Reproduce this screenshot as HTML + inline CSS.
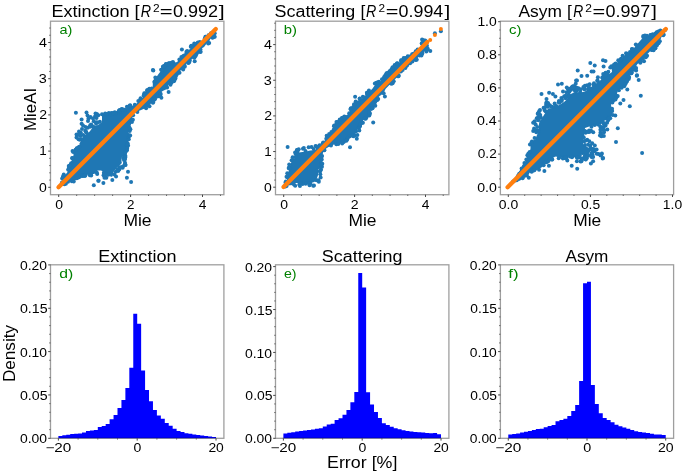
<!DOCTYPE html>
<html><head><meta charset="utf-8"><style>
html,body{margin:0;padding:0;background:#fff;}
svg{display:block;}
text{font-family:"Liberation Sans", sans-serif;}
.txt{will-change:transform;}
</style></head><body>
<svg width="685" height="474" viewBox="0 0 685 474">
<rect width="685" height="474" fill="#fff"/>
<path d="M58.38 438.3 L58.38 435.9 L62.32 435.9 L62.32 435.3 L66.26 435.3 L66.26 434.7 L70.2 434.7 L70.2 434.1 L74.15 434.1 L74.15 433.8 L78.09 433.8 L78.09 433.4 L82.03 433.4 L82.03 432.6 L85.97 432.6 L85.97 431.1 L89.91 431.1 L89.91 430.5 L93.85 430.5 L93.85 429.9 L97.79 429.9 L97.79 427.1 L101.73 427.1 L101.73 426 L105.67 426 L105.67 423.9 L109.61 423.9 L109.61 419.2 L113.55 419.2 L113.55 415.1 L117.5 415.1 L117.5 408.1 L121.44 408.1 L121.44 400 L125.38 400 L125.38 388 L129.32 388 L129.32 367.7 L133.26 367.7 L133.26 313.8 L137.2 313.8 L137.2 323.8 L141.14 323.8 L141.14 370.5 L145.08 370.5 L145.08 389.9 L149.02 389.9 L149.02 401.3 L152.96 401.3 L152.96 409.9 L156.9 409.9 L156.9 415.5 L160.85 415.5 L160.85 418.7 L164.79 418.7 L164.79 422.9 L168.73 422.9 L168.73 425.8 L172.67 425.8 L172.67 428.8 L176.61 428.8 L176.61 430.9 L180.55 430.9 L180.55 432 L184.49 432 L184.49 433.2 L188.43 433.2 L188.43 433.8 L192.37 433.8 L192.37 434.4 L196.31 434.4 L196.31 435 L200.25 435 L200.25 435.4 L204.2 435.4 L204.2 436 L208.14 436 L208.14 436.5 L212.08 436.5 L212.08 436.9 L216.02 436.9 L216.02 438.3 Z" fill="#0000ff"/>
<path d="M283.38 438.3 L283.38 433.4 L287.32 433.4 L287.32 432.8 L291.26 432.8 L291.26 432.2 L295.2 432.2 L295.2 431.6 L299.15 431.6 L299.15 430.9 L303.09 430.9 L303.09 430.6 L307.03 430.6 L307.03 429.9 L310.97 429.9 L310.97 429.5 L314.91 429.5 L314.91 428.8 L318.85 428.8 L318.85 428.2 L322.79 428.2 L322.79 426.6 L326.73 426.6 L326.73 424.5 L330.67 424.5 L330.67 423.7 L334.61 423.7 L334.61 420.1 L338.55 420.1 L338.55 418.3 L342.5 418.3 L342.5 414.8 L346.44 414.8 L346.44 409.9 L350.38 409.9 L350.38 402.2 L354.32 402.2 L354.32 392 L358.26 392 L358.26 272.9 L362.2 272.9 L362.2 287.5 L366.14 287.5 L366.14 392.2 L370.08 392.2 L370.08 404.5 L374.02 404.5 L374.02 412 L377.96 412 L377.96 417.9 L381.9 417.9 L381.9 423.2 L385.85 423.2 L385.85 425 L389.79 425 L389.79 426.8 L393.73 426.8 L393.73 428.2 L397.67 428.2 L397.67 429.3 L401.61 429.3 L401.61 430.2 L405.55 430.2 L405.55 430.9 L409.49 430.9 L409.49 431.4 L413.43 431.4 L413.43 431.9 L417.37 431.9 L417.37 432.3 L421.31 432.3 L421.31 432.6 L425.25 432.6 L425.25 433 L429.2 433 L429.2 433.3 L433.14 433.3 L433.14 433 L437.08 433 L437.08 434.3 L441.02 434.3 L441.02 438.3 Z" fill="#0000ff"/>
<path d="M508.27 438.3 L508.27 434.6 L512.21 434.6 L512.21 434 L516.15 434 L516.15 433.4 L520.08 433.4 L520.08 432.5 L524.02 432.5 L524.02 431.8 L527.95 431.8 L527.95 430.9 L531.89 430.9 L531.89 429.9 L535.83 429.9 L535.83 429 L539.76 429 L539.76 428.7 L543.7 428.7 L543.7 427.2 L547.64 427.2 L547.64 425.9 L551.57 425.9 L551.57 424.9 L555.51 424.9 L555.51 421.2 L559.45 421.2 L559.45 420.1 L563.38 420.1 L563.38 418.7 L567.32 418.7 L567.32 416 L571.25 416 L571.25 411.1 L575.19 411.1 L575.19 404.9 L579.13 404.9 L579.13 381.1 L583.06 381.1 L583.06 283.3 L587 283.3 L587 281.8 L590.94 281.8 L590.94 385 L594.87 385 L594.87 404 L598.81 404 L598.81 413.3 L602.75 413.3 L602.75 417.9 L606.68 417.9 L606.68 420.1 L610.62 420.1 L610.62 422.2 L614.55 422.2 L614.55 424.7 L618.49 424.7 L618.49 426.2 L622.43 426.2 L622.43 427.6 L626.36 427.6 L626.36 428.7 L630.3 428.7 L630.3 430 L634.24 430 L634.24 431.2 L638.17 431.2 L638.17 431.9 L642.11 431.9 L642.11 432.5 L646.05 432.5 L646.05 433.1 L649.98 433.1 L649.98 433.8 L653.92 433.8 L653.92 434.4 L657.85 434.4 L657.85 434.6 L661.79 434.6 L661.79 434.9 L665.73 434.9 L665.73 438.3 Z" fill="#0000ff"/>
<path d="M66.3 182.31 L66.68 182.15 L70.28 180.95 L70.56 180.87 L70.84 180.82 L75.42 180.25 L77.3 179.71 L77.3 178.9 L77.31 178.61 L77.36 178.32 L77.43 178.04 L77.53 177.77 L77.65 177.51 L77.81 177.26 L77.98 177.03 L78.18 176.82 L78.4 176.63 L78.63 176.46 L78.88 176.32 L79.15 176.2 L79.42 176.11 L83.72 174.91 L83.98 174.85 L84.24 174.81 L84.5 174.8 L90.14 174.8 L94.6 173.69 L94.95 173.62 L95 173.62 L95 172 L97.73 170.5 L99.8 170.5 L100.39 170.53 L100.97 170.62 L101.54 170.76 L102.1 170.96 L102.63 171.21 L103.13 171.51 L103.61 171.86 L104.04 172.26 L105.44 173.66 L107.7 174.41 L108.25 174.62 L108.77 174.89 L109.27 175.2 L109.73 175.57 L110.16 175.97 L110.54 176.42 L110.87 176.89 L112.63 176.19 L112.74 176.07 L113.06 173.85 L113.18 173.26 L113.35 172.68 L113.58 172.13 L113.86 171.6 L114.2 171.1 L116 168.7 L116.32 168.31 L116.67 167.95 L117.05 167.61 L119.62 165.56 L121.89 162.92 L121.85 162.83 L121.68 162.27 L121.57 161.7 L121.51 161.12 L121.51 160.53 L121.56 159.95 L121.96 157.17 L125.31 155.33 L125.81 150.31 L125.86 149.99 L125.95 149.68 L127.11 146.19 L128.29 141.5 L128.37 141.23 L128.47 140.97 L128.6 140.72 L128.76 140.49 L128.76 140.49 L128.16 137.71 L128.12 137.42 L128.1 137.13 L128.11 136.85 L128.15 136.56 L128.22 136.28 L128.31 136.01 L128.44 135.74 L128.58 135.5 L128.76 135.26 L128.95 135.05 L129.67 134.33 L129.28 133.87 L129.11 133.64 L128.96 133.39 L128.83 133.13 L128.73 132.86 L128.66 132.58 L128.62 132.3 L128.6 132.01 L128.61 131.72 L128.66 131.44 L128.72 131.16 L128.82 130.89 L128.95 130.63 L129.09 130.38 L129.27 130.15 L129.46 129.94 L129.68 129.75 L130.41 129.15 L130.26 128.37 L130.22 128.11 L130.2 127.84 L130.21 127.58 L130.24 127.32 L130.3 127.06 L131.2 123.66 L131.29 123.38 L131.41 123.1 L132.73 120.45 L132.41 117.07 L132.4 116.81 L132.41 116.54 L132.45 116.28 L132.51 116.02 L132.59 115.77 L133.39 113.67 L133.51 113.4 L133.65 113.15 L133.82 112.91 L134.01 112.69 L134.22 112.49 L134.46 112.31 L134.71 112.16 L134.97 112.03 L135.24 111.93 L139.35 110.66 L143.45 109.1 L147.15 107.63 L149.94 104.76 L153.27 100.77 L155.48 97.41 L155.66 97.16 L155.87 96.93 L156.1 96.72 L156.36 96.54 L156.63 96.39 L159.61 94.94 L161.48 92.11 L161.66 91.86 L161.87 91.63 L162.1 91.42 L162.35 91.25 L162.63 91.1 L166.44 89.23 L168.31 85.5 L168.45 85.25 L168.62 85.01 L168.81 84.79 L171.11 82.39 L171.18 82.32 L174.07 79.51 L174.98 75.64 L175.06 75.36 L175.16 75.09 L175.3 74.83 L175.46 74.59 L175.64 74.37 L175.84 74.16 L176.07 73.97 L180.62 70.59 L183.8 67.5 L187.05 63 L187.23 62.77 L187.44 62.56 L187.67 62.37 L192.16 59.03 L194.56 56.45 L196.96 53.18 L197.13 52.98 L197.31 52.79 L197.5 52.62 L197.71 52.47 L199.83 51.09 L201.2 49.07 L201.37 48.85 L201.55 48.65 L201.75 48.47 L201.97 48.3 L204.06 46.88 L206.26 43.88 L206.43 43.68 L206.61 43.49 L206.8 43.32 L207.01 43.17 L208.94 41.91 L210.19 39.33 L210.32 39.1 L210.47 38.87 L210.64 38.66 L210.83 38.47 L211.04 38.29 L211.27 38.14 L211.5 38.01 L213.91 36.8 L213.5 35.76 L213.41 35.48 L213.34 35.2 L213.31 34.91 L213.3 34.61 L213.32 34.32 L213.38 34.03 L213.46 33.75 L214.13 31.8 L211.53 33.02 L211.24 33.14 L210.93 33.23 L210.62 33.28 L210.3 33.3 L208.34 33.3 L206.95 33.83 L206.85 34.34 L206.79 34.6 L206.7 34.85 L206.6 35.09 L206.47 35.32 L204.37 38.72 L204.22 38.95 L204.04 39.15 L203.85 39.34 L203.65 39.52 L203.42 39.67 L200.02 41.77 L199.79 41.9 L199.54 42.01 L196.14 43.31 L195.82 43.41 L195.5 43.47 L194.22 43.65 L193.97 44.24 L193.82 44.53 L193.65 44.8 L193.45 45.05 L189.65 49.25 L189.62 49.28 L186.92 52.18 L186.72 52.37 L186.5 52.55 L186.26 52.71 L186 52.84 L185.74 52.94 L182.66 54 L181.45 54.9 L180.54 57.54 L180.42 57.84 L180.26 58.13 L180.07 58.4 L177.77 61.3 L177.6 61.5 L177.4 61.69 L177.19 61.85 L176.97 62 L176.73 62.12 L176.49 62.23 L176.23 62.31 L171.67 63.5 L166.23 65.09 L163.21 66.78 L161.91 69.47 L161.77 69.72 L161.61 69.96 L158.17 74.48 L156.12 77.59 L155.04 80.74 L154.95 80.99 L154.83 81.22 L154.69 81.45 L154.53 81.66 L154.35 81.85 L152.84 83.36 L152.7 86.34 L152.67 86.63 L152.61 86.91 L152.53 87.19 L152.42 87.45 L152.28 87.7 L152.12 87.94 L151.93 88.16 L151.73 88.37 L151.5 88.55 L151.26 88.7 L151.01 88.84 L150.74 88.94 L148.19 89.82 L147.63 90.68 L147.46 90.91 L147.27 91.13 L147.05 91.33 L144.93 93.08 L144.54 94.99 L144.47 95.26 L144.37 95.52 L144.25 95.77 L144.11 96.01 L143.94 96.24 L143.76 96.44 L143.55 96.63 L140.28 99.34 L138.17 102 L137.95 102.25 L135.65 104.55 L135.45 104.73 L135.24 104.89 L135.01 105.03 L134.77 105.15 L134.52 105.25 L134.26 105.32 L129.91 106.34 L126.73 107.98 L126.7 107.99 L123.3 109.69 L122.94 109.84 L119.7 110.95 L116.44 112.82 L116.19 112.94 L115.93 113.05 L115.67 113.12 L115.39 113.17 L110.99 113.77 L110.85 113.79 L105.36 114.27 L102 115.07 L102 122 L98.49 124.68 L97.08 125.14 L96.6 125.27 L96.11 125.35 L95.62 125.4 L95.12 125.39 L94.62 125.34 L94.13 125.25 L94.03 125.23 L92.4 127.71 L92.23 127.96 L89.68 131.42 L86.38 133.95 L83.96 135.13 L82.8 135.98 L82.8 136.1 L82.77 136.64 L82.69 137.17 L82.56 137.7 L82.38 138.21 L82.15 138.69 L81.87 139.16 L81.66 139.45 L81.8 139.81 L79.5 143.25 L79.5 144.6 L79.49 144.87 L79.45 145.13 L79.39 145.39 L79.31 145.64 L79.2 145.89 L79.07 146.12 L78.92 146.34 L77.12 148.74 L76.94 148.96 L76.74 149.15 L76.53 149.33 L76.29 149.49 L73.6 151.1 L73.08 151.63 L73.47 154.39 L73.5 154.66 L73.5 154.93 L73.47 155.19 L73.42 155.46 L73.35 155.72 L72.15 159.32 L71.99 159.7 L70.97 161.75 L70.44 164.37 L70.36 164.69 L69.16 168.39 L69.08 168.6 L68.99 168.8 L67.19 172.4 L67.04 172.67 L66.86 172.92 L66.65 173.15 L64.22 175.58 L63.81 177.2 L63.69 177.58 L61.35 183.44 L60.98 184.74 L62.84 184.04 L66.3 182.31Z" fill="#1f77b4"/>
<g fill="#1f77b4"><circle cx="79.98" cy="133.43" r="2"/><circle cx="91.21" cy="124.59" r="2"/><circle cx="87.76" cy="127.67" r="2"/><circle cx="83.24" cy="134.92" r="2"/><circle cx="93.73" cy="121.32" r="2"/><circle cx="98.32" cy="115.25" r="2"/><circle cx="86.41" cy="132.55" r="2"/><circle cx="92.73" cy="126.46" r="2"/><circle cx="90.23" cy="125.28" r="2"/><circle cx="96.33" cy="122.32" r="2"/><circle cx="96.04" cy="123.51" r="2"/><circle cx="99.9" cy="121.72" r="2"/><circle cx="90.79" cy="126.06" r="2"/><circle cx="96.9" cy="113.92" r="2"/><circle cx="80.87" cy="132.81" r="2"/><circle cx="85.33" cy="130.84" r="2"/><circle cx="90.05" cy="126.76" r="2"/><circle cx="80.33" cy="136.04" r="2"/><circle cx="81.65" cy="139.29" r="2"/><circle cx="79.89" cy="139.74" r="2"/><circle cx="97.78" cy="122.45" r="2"/><circle cx="78.51" cy="139.27" r="2"/><circle cx="85.71" cy="131.31" r="2"/><circle cx="79.18" cy="134.92" r="2"/><circle cx="88.83" cy="117.98" r="2"/><circle cx="103.84" cy="172.75" r="2"/><circle cx="124.24" cy="157.27" r="2"/><circle cx="125.28" cy="164.82" r="2"/><circle cx="104.51" cy="173.04" r="2"/><circle cx="116.04" cy="176.58" r="2"/><circle cx="103.55" cy="175.17" r="2"/><circle cx="115.77" cy="171.81" r="2"/><circle cx="124.98" cy="158.48" r="2"/><circle cx="105.67" cy="174.25" r="2"/><circle cx="97.21" cy="174.12" r="2"/><circle cx="119.27" cy="169.42" r="2"/><circle cx="106.35" cy="177.69" r="2"/><circle cx="108.41" cy="174.87" r="2"/><circle cx="125.54" cy="165.06" r="2"/><circle cx="122.67" cy="167.81" r="2"/><circle cx="114.35" cy="174.42" r="2"/><circle cx="123.7" cy="158.32" r="2"/><circle cx="112.34" cy="179.95" r="2"/><circle cx="122.72" cy="166.53" r="2"/><circle cx="119.35" cy="167.84" r="2"/><circle cx="117.5" cy="169.27" r="2"/><circle cx="120.35" cy="167.3" r="2"/><circle cx="125.02" cy="162.81" r="2"/><circle cx="96.74" cy="172.45" r="2"/><circle cx="123.97" cy="160.09" r="2"/><circle cx="125.25" cy="155.56" r="2"/><circle cx="125.45" cy="157.02" r="2"/><circle cx="104.44" cy="177.78" r="2"/><circle cx="124.87" cy="159.38" r="2"/><circle cx="124.71" cy="164.51" r="2"/><circle cx="120.08" cy="167.72" r="2"/><circle cx="118.19" cy="171.12" r="2"/><circle cx="124.94" cy="152.13" r="2"/><circle cx="176.11" cy="74.53" r="2"/><circle cx="144.87" cy="93.52" r="2"/><circle cx="189.59" cy="60.88" r="2"/><circle cx="63.46" cy="176.32" r="2"/><circle cx="168.73" cy="63.23" r="2"/><circle cx="166.55" cy="64.25" r="2"/><circle cx="171.43" cy="82.63" r="2"/><circle cx="129.17" cy="106.81" r="2"/><circle cx="176.31" cy="75.16" r="2"/><circle cx="147.29" cy="89.97" r="2"/><circle cx="73.16" cy="180.9" r="2"/><circle cx="75.54" cy="149.8" r="2"/><circle cx="62.17" cy="178.54" r="2"/><circle cx="121.61" cy="109.12" r="2"/><circle cx="90.67" cy="174.36" r="2"/><circle cx="144.27" cy="93.33" r="2"/><circle cx="212.54" cy="37.74" r="2"/><circle cx="177.97" cy="73.1" r="2"/><circle cx="119.49" cy="111.66" r="2"/><circle cx="72.33" cy="158.15" r="2"/><circle cx="189.56" cy="60.35" r="2"/><circle cx="68.78" cy="165.92" r="2"/><circle cx="186.35" cy="51.93" r="2"/><circle cx="71.79" cy="181.35" r="2"/><circle cx="72.21" cy="157.89" r="2"/><circle cx="71.16" cy="163.23" r="2"/><circle cx="199.81" cy="42.09" r="2"/><circle cx="162.26" cy="69.53" r="2"/><circle cx="153.68" cy="99.4" r="2"/><circle cx="130.37" cy="129.17" r="2"/><circle cx="153.11" cy="102.28" r="2"/><circle cx="128.1" cy="145.44" r="2"/><circle cx="154.14" cy="99.3" r="2"/><circle cx="117.77" cy="112.65" r="2"/><circle cx="173.71" cy="80.47" r="2"/><circle cx="165.74" cy="64.78" r="2"/><circle cx="127.67" cy="143.36" r="2"/><circle cx="124.75" cy="109.75" r="2"/><circle cx="126.03" cy="150.93" r="2"/><circle cx="125.08" cy="152.26" r="2"/><circle cx="70.85" cy="164.62" r="2"/><circle cx="114.15" cy="113.76" r="2"/><circle cx="140.56" cy="98.25" r="2"/><circle cx="166.71" cy="64.87" r="2"/><circle cx="69.74" cy="165.41" r="2"/><circle cx="68.83" cy="168.06" r="2"/><circle cx="154.33" cy="81.99" r="2"/><circle cx="154.87" cy="81.37" r="2"/><circle cx="111.44" cy="113.04" r="2"/><circle cx="195.02" cy="44.02" r="2"/><circle cx="85.2" cy="175.72" r="2"/><circle cx="84.97" cy="175.54" r="2"/><circle cx="175.13" cy="78.86" r="2"/><circle cx="174.31" cy="80.72" r="2"/><circle cx="193.98" cy="57.51" r="2"/><circle cx="200.19" cy="51.92" r="2"/><circle cx="196.57" cy="53.83" r="2"/><circle cx="173.69" cy="63.61" r="2"/><circle cx="68.06" cy="181.79" r="2"/><circle cx="83" cy="175.09" r="2"/><circle cx="130.13" cy="105.28" r="2"/><circle cx="64.39" cy="184.32" r="2"/><circle cx="134.82" cy="104.74" r="2"/><circle cx="133.1" cy="115.22" r="2"/><circle cx="151.66" cy="88.45" r="2"/><circle cx="126.93" cy="106.84" r="2"/><circle cx="104.97" cy="114.63" r="2"/><circle cx="128.8" cy="139.25" r="2"/><circle cx="160.01" cy="96.06" r="2"/><circle cx="105.16" cy="113.62" r="2"/><circle cx="200.69" cy="51.75" r="2"/><circle cx="140.4" cy="100.15" r="2"/><circle cx="164.43" cy="66.38" r="2"/><circle cx="128.53" cy="107.13" r="2"/><circle cx="172.93" cy="62.04" r="2"/><circle cx="179.52" cy="72.74" r="2"/><circle cx="69.38" cy="169.47" r="2"/><circle cx="80.11" cy="176.46" r="2"/><circle cx="184.65" cy="66.09" r="2"/><circle cx="160.47" cy="94.64" r="2"/><circle cx="209.2" cy="42.93" r="2"/><circle cx="181.36" cy="56.89" r="2"/><circle cx="205.37" cy="36.67" r="2"/><circle cx="129.51" cy="127.83" r="2"/><circle cx="154.89" cy="99" r="2"/><circle cx="163.94" cy="65.93" r="2"/><circle cx="191.29" cy="45.69" r="2"/><circle cx="127" cy="150.3" r="2"/><circle cx="129.73" cy="131.1" r="2"/><circle cx="198.92" cy="42.72" r="2"/><circle cx="81.61" cy="175.18" r="2"/><circle cx="155.34" cy="77.38" r="2"/><circle cx="132.21" cy="115.07" r="2"/><circle cx="91.2" cy="175.58" r="2"/><circle cx="78.46" cy="177.58" r="2"/><circle cx="197.8" cy="42.55" r="2"/><circle cx="188.26" cy="62.89" r="2"/><circle cx="129.65" cy="105.89" r="2"/><circle cx="63.41" cy="183.31" r="2"/><circle cx="78.07" cy="147.86" r="2"/><circle cx="119.78" cy="109.94" r="2"/><circle cx="82.47" cy="175.83" r="2"/><circle cx="116.23" cy="113.06" r="2"/><circle cx="162.91" cy="66.75" r="2"/><circle cx="200.39" cy="49.15" r="2"/><circle cx="62.94" cy="176.88" r="2"/><circle cx="186.77" cy="53.2" r="2"/><circle cx="128.15" cy="106.7" r="2"/><circle cx="79.13" cy="146.82" r="2"/><circle cx="138.32" cy="100.96" r="2"/><circle cx="85.58" cy="174.4" r="2"/><circle cx="149.33" cy="88.74" r="2"/><circle cx="118.97" cy="110.62" r="2"/><circle cx="89.8" cy="175.32" r="2"/><circle cx="128.82" cy="136.86" r="2"/><circle cx="63.02" cy="176.88" r="2"/><circle cx="72.55" cy="151.09" r="2"/><circle cx="162.57" cy="69.68" r="2"/><circle cx="169.65" cy="63.17" r="2"/><circle cx="147.48" cy="90.83" r="2"/><circle cx="161.08" cy="69.75" r="2"/><circle cx="109.09" cy="113.93" r="2"/><circle cx="150.52" cy="89.18" r="2"/><circle cx="174.81" cy="78.67" r="2"/><circle cx="132.89" cy="119.79" r="2"/><circle cx="170.48" cy="84.64" r="2"/><circle cx="208.22" cy="43.49" r="2"/><circle cx="187.12" cy="50.95" r="2"/><circle cx="108.88" cy="112.99" r="2"/><circle cx="212.3" cy="37.14" r="2"/><circle cx="122.63" cy="109.24" r="2"/><circle cx="129.18" cy="135.24" r="2"/><circle cx="62.74" cy="183.55" r="2"/><circle cx="171.43" cy="62.69" r="2"/><circle cx="168.8" cy="64.18" r="2"/><circle cx="153.36" cy="99.64" r="2"/><circle cx="143.65" cy="95.54" r="2"/><circle cx="126.71" cy="145.04" r="2"/><circle cx="205.99" cy="36.72" r="2"/><circle cx="61.97" cy="182.44" r="2"/><circle cx="214.72" cy="33.19" r="2"/><circle cx="79.13" cy="176.68" r="2"/><circle cx="194.5" cy="57.42" r="2"/><circle cx="164.19" cy="66.6" r="2"/><circle cx="214.77" cy="36.86" r="2"/><circle cx="102.02" cy="114.26" r="2"/><circle cx="155.7" cy="80.33" r="2"/><circle cx="184.72" cy="66.74" r="2"/><circle cx="152.89" cy="102.78" r="2"/><circle cx="196.3" cy="54.08" r="2"/><circle cx="115.36" cy="113.05" r="2"/><circle cx="76.73" cy="178.13" r="2"/><circle cx="127.24" cy="148.04" r="2"/><circle cx="190.8" cy="46.72" r="2"/><circle cx="161.9" cy="70.1" r="2"/><circle cx="187.28" cy="52.12" r="2"/><circle cx="177.04" cy="72.73" r="2"/><circle cx="191.51" cy="46.02" r="2"/><circle cx="189.09" cy="62.46" r="2"/><circle cx="149.48" cy="106.36" r="2"/><circle cx="197.33" cy="52.33" r="2"/><circle cx="73.22" cy="151.88" r="2"/><circle cx="157.48" cy="96.55" r="2"/><circle cx="68.18" cy="169.79" r="2"/><circle cx="65.88" cy="183.68" r="2"/><circle cx="210.92" cy="33.27" r="2"/><circle cx="194.23" cy="43.54" r="2"/><circle cx="137.36" cy="112.09" r="2"/><circle cx="160.6" cy="93.77" r="2"/><circle cx="111.35" cy="114.31" r="2"/><circle cx="195.59" cy="55.8" r="2"/><circle cx="106.46" cy="114.05" r="2"/><circle cx="175.58" cy="77.92" r="2"/><circle cx="153.46" cy="101.11" r="2"/><circle cx="212.93" cy="36.57" r="2"/><circle cx="188.21" cy="61.53" r="2"/><circle cx="115.33" cy="113.82" r="2"/><circle cx="136.67" cy="111.01" r="2"/><circle cx="165.83" cy="64.06" r="2"/><circle cx="173.64" cy="81.21" r="2"/><circle cx="172.73" cy="80.95" r="2"/><circle cx="130.1" cy="105.72" r="2"/><circle cx="188.11" cy="51.64" r="2"/><circle cx="179.36" cy="59.57" r="2"/><circle cx="82.82" cy="175.95" r="2"/><circle cx="182.65" cy="68.07" r="2"/><circle cx="130.17" cy="135.43" r="2"/><circle cx="112.6" cy="113.45" r="2"/><circle cx="167.1" cy="87.52" r="2"/><circle cx="213.8" cy="36.92" r="2"/><circle cx="114.78" cy="112.25" r="2"/><circle cx="146.12" cy="108.27" r="2"/><circle cx="195.47" cy="55.71" r="2"/><circle cx="73.76" cy="181.61" r="2"/><circle cx="174.24" cy="78.35" r="2"/><circle cx="63" cy="177.49" r="2"/><circle cx="183.16" cy="69.59" r="2"/><circle cx="76.73" cy="148.2" r="2"/><circle cx="160.18" cy="95.89" r="2"/><circle cx="84.44" cy="175.78" r="2"/><circle cx="63.76" cy="174.44" r="2"/><circle cx="192.92" cy="46.65" r="2"/><circle cx="125.19" cy="152.69" r="2"/><circle cx="131.94" cy="121.95" r="2"/><circle cx="163.15" cy="66.73" r="2"/><circle cx="204.76" cy="38.49" r="2"/><circle cx="126.94" cy="148.4" r="2"/><circle cx="154.94" cy="98.74" r="2"/><circle cx="68.67" cy="169.26" r="2"/><circle cx="147.14" cy="90.77" r="2"/><circle cx="113.31" cy="113" r="2"/></g>
<g fill="#1f77b4"><circle cx="86.5" cy="112.5" r="2"/><circle cx="87.5" cy="115.5" r="2"/><circle cx="88.5" cy="118.5" r="2"/><circle cx="88" cy="121" r="2"/><circle cx="95.5" cy="113.5" r="2"/><circle cx="95" cy="116.5" r="2"/><circle cx="96.5" cy="118" r="2"/><circle cx="93" cy="118.5" r="2"/><circle cx="90.5" cy="117" r="2"/><circle cx="85.5" cy="127" r="2"/><circle cx="82" cy="129" r="2"/><circle cx="79" cy="131.5" r="2"/><circle cx="76.5" cy="134.5" r="2"/><circle cx="76.5" cy="137.5" r="2"/><circle cx="93.8" cy="185.2" r="2"/><circle cx="98.3" cy="180.7" r="2"/><circle cx="128" cy="171.7" r="2"/><circle cx="126.9" cy="177.7" r="2"/><circle cx="131.1" cy="181.9" r="2"/><circle cx="98.6" cy="180.7" r="2"/><circle cx="103.4" cy="183.1" r="2"/><circle cx="75.9" cy="112.8" r="2"/><circle cx="81.6" cy="119.5" r="2"/><circle cx="81.6" cy="123.7" r="2"/><circle cx="83" cy="125.6" r="2"/><circle cx="79.2" cy="133.7" r="2"/><circle cx="153.3" cy="70.6" r="2"/><circle cx="161.4" cy="97.8" r="2"/><circle cx="152.9" cy="69.9" r="2"/><circle cx="181.9" cy="49.6" r="2"/><circle cx="194.7" cy="61.2" r="2"/><circle cx="168.6" cy="92" r="2"/></g>
<line x1="58.5" y1="187.2" x2="215.8" y2="29.1" stroke="#ff7f0e" stroke-width="4.3" stroke-linecap="round"/>
<path d="M293.31 185.01 L293.6 185 L295 185 L295 182.9 L311.08 182.9 L314.23 182.11 L315.52 181.08 L316.71 178.7 L318.1 174.99 L318.1 169.9 L318.13 169.41 L320.5 168.53 L321.4 165.83 L321.4 159 L321.41 158.73 L321.45 158.47 L321.51 158.2 L323.51 151.2 L323.61 150.92 L323.73 150.66 L323.88 150.4 L324.05 150.17 L324.25 149.95 L324.47 149.75 L324.71 149.58 L328.51 147.08 L328.82 146.9 L333.92 144.4 L334.2 144.28 L334.48 144.19 L339.58 142.89 L343.84 141.78 L345.74 139.95 L348.11 136.91 L348.3 136.7 L348.51 136.5 L348.74 136.32 L348.98 136.17 L349.23 136.04 L349.5 135.94 L349.78 135.87 L350.06 135.82 L354.16 135.34 L355.5 134 L357.18 129.49 L357.3 129.22 L357.44 128.96 L360.64 123.86 L360.77 123.67 L364.57 118.57 L364.75 118.36 L364.94 118.17 L365.14 117.99 L365.36 117.84 L365.6 117.71 L365.85 117.6 L366.1 117.51 L366.37 117.45 L367.85 117.17 L369.73 111.14 L369.84 110.85 L369.97 110.58 L372.64 105.81 L373.86 102.26 L373.95 102.02 L374.07 101.78 L374.21 101.56 L374.37 101.34 L374.55 101.15 L379.65 96.05 L379.87 95.85 L380.11 95.68 L383.24 93.61 L385.4 89.22 L385.55 88.95 L385.74 88.69 L385.95 88.45 L393.55 80.85 L397.06 77.33 L398.77 74.29 L398.97 73.97 L402.77 68.87 L403.05 68.55 L406.85 64.75 L407.07 64.55 L407.31 64.38 L411.11 61.88 L411.16 61.84 L416.11 58.74 L419.65 55.85 L423.35 52.15 L423.59 51.93 L423.86 51.74 L427.06 49.74 L427.35 49.59 L427.35 49.58 L426.53 47.63 L426.43 47.37 L426.37 47.11 L426.32 46.85 L425.78 42.35 L424.41 39.6 L424.17 39.42 L423.31 40.04 L423.08 40.19 L421.82 40.94 L422.48 43.18 L422.55 43.45 L422.59 43.72 L422.6 43.99 L422.59 44.27 L422.55 44.54 L422.48 44.81 L422.4 45.07 L422.28 45.32 L422.14 45.56 L421.99 45.79 L419.49 48.99 L419.29 49.21 L419.08 49.41 L418.85 49.59 L414.46 52.61 L410.77 55.72 L410.51 55.91 L410.23 56.08 L409.93 56.21 L405.31 57.97 L400.62 61.46 L397.51 64.18 L397.43 64.25 L393.98 67.07 L391.72 70.49 L391.57 70.7 L391.41 70.89 L391.23 71.07 L391.03 71.23 L386.34 74.72 L384.12 78.09 L383.96 78.32 L383.77 78.53 L383.57 78.72 L379.77 81.92 L379.55 82.09 L379.31 82.24 L375.4 84.4 L372.69 88.35 L372.53 88.56 L372.35 88.75 L367.25 93.85 L363.45 97.65 L363.21 97.86 L362.95 98.05 L362.68 98.2 L357.58 100.7 L357.24 100.84 L354.74 101.7 L353.12 106.1 L352.99 106.41 L352.82 106.69 L350.32 110.49 L350.29 110.54 L347.69 114.34 L347.55 114.53 L347.39 114.71 L344.89 117.31 L344.65 117.53 L344.39 117.72 L340.59 120.22 L340.38 120.35 L340.17 120.46 L339.94 120.54 L336.6 121.69 L334.59 123.25 L334.23 124.85 L334.21 124.93 L332.91 129.93 L332.81 130.23 L332.68 130.52 L332.52 130.79 L330.02 134.59 L329.86 134.82 L329.67 135.03 L329.46 135.22 L329.24 135.39 L326.11 137.53 L324.54 141 L324.42 141.23 L324.29 141.45 L324.13 141.66 L323.95 141.85 L320.95 144.85 L320.76 145.03 L320.55 145.18 L320.33 145.32 L320.1 145.44 L319.85 145.54 L319.6 145.61 L316 146.51 L316 149.71 L315.56 149.82 L314.83 149.96 L310.3 150.51 L305.86 151.62 L305.14 151.75 L300.47 152.34 L299.36 152.52 L299 153 L298.44 153.64 L297.04 155.04 L296.29 157.3 L295.89 158.51 L292.48 158.94 L292.15 159.92 L292.12 160.02 L290.38 164.66 L289.22 169.39 L289.18 169.53 L287.46 175.27 L286.89 180.99 L286.86 181.18 L286.16 185.4 L287.64 185.58 L293.31 185.01Z" fill="#1f77b4"/>
<g fill="#1f77b4"><circle cx="302.96" cy="148.86" r="2"/><circle cx="297.84" cy="150.06" r="2"/><circle cx="295.06" cy="152.6" r="2"/><circle cx="297.58" cy="151.94" r="2"/><circle cx="296.93" cy="149.89" r="2"/><circle cx="315.57" cy="145.93" r="2"/><circle cx="296.77" cy="152.43" r="2"/><circle cx="298.71" cy="149.25" r="2"/><circle cx="295.85" cy="154.18" r="2"/><circle cx="311.56" cy="146.97" r="2"/><circle cx="305.51" cy="150.95" r="2"/><circle cx="296.37" cy="152.1" r="2"/><circle cx="308.65" cy="147.27" r="2"/><circle cx="297.15" cy="152.93" r="2"/><circle cx="313.78" cy="148.94" r="2"/><circle cx="303.86" cy="147.99" r="2"/><circle cx="292.66" cy="157.27" r="2"/><circle cx="297.1" cy="150.15" r="2"/><circle cx="295.52" cy="157.37" r="2"/><circle cx="319.93" cy="171.62" r="2"/><circle cx="310.34" cy="183.42" r="2"/><circle cx="308.73" cy="183.16" r="2"/><circle cx="316.44" cy="180.2" r="2"/><circle cx="320.65" cy="177.5" r="2"/><circle cx="313.22" cy="185.63" r="2"/><circle cx="295.21" cy="185.78" r="2"/><circle cx="309.54" cy="185.25" r="2"/><circle cx="318.36" cy="180.17" r="2"/><circle cx="321.07" cy="169.67" r="2"/><circle cx="305.62" cy="183.85" r="2"/><circle cx="299.28" cy="184.59" r="2"/><circle cx="302.6" cy="184.01" r="2"/><circle cx="299.94" cy="185.96" r="2"/><circle cx="319.9" cy="170.91" r="2"/><circle cx="320.29" cy="174.37" r="2"/><circle cx="300.59" cy="183.07" r="2"/><circle cx="318.81" cy="181.73" r="2"/><circle cx="314" cy="185.57" r="2"/><circle cx="401.94" cy="60.3" r="2"/><circle cx="383.86" cy="78.35" r="2"/><circle cx="415.69" cy="59.96" r="2"/><circle cx="405.37" cy="58.1" r="2"/><circle cx="398.49" cy="76.28" r="2"/><circle cx="422.08" cy="52.61" r="2"/><circle cx="329.17" cy="134.01" r="2"/><circle cx="371.06" cy="109.09" r="2"/><circle cx="407.77" cy="56.27" r="2"/><circle cx="422.4" cy="44.17" r="2"/><circle cx="369.24" cy="113.45" r="2"/><circle cx="425.17" cy="41.94" r="2"/><circle cx="416.03" cy="58.07" r="2"/><circle cx="377.35" cy="99.94" r="2"/><circle cx="342.31" cy="118.07" r="2"/><circle cx="354.25" cy="104.74" r="2"/><circle cx="286.59" cy="185.99" r="2"/><circle cx="341.94" cy="142.41" r="2"/><circle cx="372.42" cy="107.4" r="2"/><circle cx="379.02" cy="81.65" r="2"/><circle cx="333.64" cy="129.78" r="2"/><circle cx="341.77" cy="119.65" r="2"/><circle cx="388.9" cy="72.36" r="2"/><circle cx="350.68" cy="108.6" r="2"/><circle cx="339.77" cy="119.61" r="2"/><circle cx="367.2" cy="93" r="2"/><circle cx="359.99" cy="126.28" r="2"/><circle cx="392.99" cy="67.23" r="2"/><circle cx="367.21" cy="94.71" r="2"/><circle cx="322.79" cy="143.17" r="2"/><circle cx="285.46" cy="186.45" r="2"/><circle cx="344.33" cy="116.47" r="2"/><circle cx="323.24" cy="142.62" r="2"/><circle cx="386.25" cy="74.9" r="2"/><circle cx="397.88" cy="64.34" r="2"/><circle cx="319.6" cy="145.14" r="2"/><circle cx="321.74" cy="159.45" r="2"/><circle cx="324.34" cy="150.23" r="2"/><circle cx="347.17" cy="139.46" r="2"/><circle cx="408.98" cy="63.3" r="2"/><circle cx="361.06" cy="122.53" r="2"/><circle cx="401.19" cy="61.78" r="2"/><circle cx="321.97" cy="166.64" r="2"/><circle cx="320.93" cy="163.73" r="2"/><circle cx="337.22" cy="122.05" r="2"/><circle cx="391.39" cy="69.52" r="2"/><circle cx="372.6" cy="108.09" r="2"/><circle cx="322.06" cy="155.97" r="2"/><circle cx="377.31" cy="98.75" r="2"/><circle cx="351.24" cy="108.14" r="2"/><circle cx="336.29" cy="144.25" r="2"/><circle cx="422.06" cy="39.61" r="2"/><circle cx="368.93" cy="90.48" r="2"/><circle cx="377.93" cy="82.29" r="2"/><circle cx="374.97" cy="102.27" r="2"/><circle cx="390.71" cy="83.17" r="2"/><circle cx="385.19" cy="75.54" r="2"/><circle cx="384.15" cy="77.1" r="2"/><circle cx="412.09" cy="54.13" r="2"/><circle cx="401.11" cy="70.5" r="2"/><circle cx="285.52" cy="182.54" r="2"/><circle cx="359.58" cy="98.79" r="2"/><circle cx="398.62" cy="75.21" r="2"/><circle cx="285.72" cy="184.45" r="2"/><circle cx="426.16" cy="43.11" r="2"/><circle cx="330.97" cy="145.38" r="2"/><circle cx="359.87" cy="125.64" r="2"/><circle cx="413.4" cy="53.81" r="2"/><circle cx="394.66" cy="65.1" r="2"/><circle cx="345.06" cy="140.58" r="2"/><circle cx="405.43" cy="58.74" r="2"/><circle cx="416.7" cy="59.71" r="2"/><circle cx="423.53" cy="40.21" r="2"/><circle cx="369.87" cy="113.83" r="2"/><circle cx="410.1" cy="63.34" r="2"/><circle cx="388.8" cy="73.16" r="2"/><circle cx="326.64" cy="135.81" r="2"/><circle cx="326.28" cy="138.84" r="2"/><circle cx="383.65" cy="93.17" r="2"/><circle cx="401.03" cy="60.37" r="2"/><circle cx="392.42" cy="67.53" r="2"/><circle cx="362.9" cy="96.8" r="2"/><circle cx="426.97" cy="45.79" r="2"/><circle cx="414.94" cy="59.33" r="2"/><circle cx="349.21" cy="113.26" r="2"/><circle cx="412.42" cy="61.46" r="2"/><circle cx="417.59" cy="49.53" r="2"/><circle cx="350.63" cy="109.23" r="2"/><circle cx="360.36" cy="124.25" r="2"/><circle cx="329.48" cy="134.64" r="2"/><circle cx="403.68" cy="58" r="2"/><circle cx="369.23" cy="111.9" r="2"/><circle cx="419.42" cy="55.61" r="2"/><circle cx="353.36" cy="136.13" r="2"/><circle cx="366.65" cy="116.99" r="2"/><circle cx="402.65" cy="69.93" r="2"/><circle cx="287.27" cy="173.37" r="2"/><circle cx="415.75" cy="51.16" r="2"/><circle cx="320.92" cy="166.55" r="2"/><circle cx="400.9" cy="71.59" r="2"/><circle cx="393.73" cy="81.32" r="2"/><circle cx="334.22" cy="125.54" r="2"/><circle cx="324.34" cy="150" r="2"/><circle cx="367.33" cy="93.95" r="2"/><circle cx="422.84" cy="42.61" r="2"/><circle cx="358.76" cy="128.29" r="2"/><circle cx="388.62" cy="72.96" r="2"/><circle cx="331.43" cy="131.88" r="2"/><circle cx="289.21" cy="164.43" r="2"/><circle cx="343.26" cy="141.95" r="2"/><circle cx="387.5" cy="73.78" r="2"/><circle cx="365.64" cy="118.64" r="2"/><circle cx="389.85" cy="70.95" r="2"/><circle cx="369.32" cy="115.49" r="2"/><circle cx="343.92" cy="141.87" r="2"/><circle cx="288.96" cy="168.25" r="2"/><circle cx="344.72" cy="118.29" r="2"/><circle cx="287.42" cy="177.3" r="2"/><circle cx="410.34" cy="62.19" r="2"/><circle cx="332.19" cy="132.48" r="2"/><circle cx="427.45" cy="49.51" r="2"/><circle cx="397.62" cy="64.87" r="2"/><circle cx="343.67" cy="118.94" r="2"/><circle cx="397.75" cy="76.23" r="2"/><circle cx="406.61" cy="65.63" r="2"/><circle cx="353.33" cy="106.97" r="2"/><circle cx="285.87" cy="181.44" r="2"/><circle cx="405.28" cy="66.42" r="2"/><circle cx="362.03" cy="122.68" r="2"/><circle cx="320.81" cy="160.62" r="2"/><circle cx="290.1" cy="168.05" r="2"/><circle cx="426.71" cy="42.86" r="2"/><circle cx="382.01" cy="79.14" r="2"/><circle cx="338.29" cy="144.11" r="2"/><circle cx="362.91" cy="122.75" r="2"/><circle cx="376.39" cy="82.74" r="2"/><circle cx="341.95" cy="118.03" r="2"/><circle cx="419.74" cy="49.56" r="2"/><circle cx="406.82" cy="65.12" r="2"/><circle cx="336.42" cy="121.97" r="2"/><circle cx="409.47" cy="56.38" r="2"/><circle cx="369.41" cy="113.64" r="2"/><circle cx="426.34" cy="51.55" r="2"/><circle cx="392.64" cy="83.34" r="2"/><circle cx="359.86" cy="98.5" r="2"/><circle cx="321.12" cy="157.51" r="2"/><circle cx="374.46" cy="101.24" r="2"/><circle cx="425.24" cy="40.62" r="2"/><circle cx="386.15" cy="74.02" r="2"/><circle cx="369.39" cy="112.48" r="2"/><circle cx="321.18" cy="165.07" r="2"/><circle cx="374.86" cy="83.39" r="2"/><circle cx="372.69" cy="106.11" r="2"/><circle cx="364.05" cy="97.6" r="2"/><circle cx="293.94" cy="184.58" r="2"/><circle cx="392.65" cy="69.53" r="2"/><circle cx="291.6" cy="160.27" r="2"/><circle cx="391.53" cy="83.79" r="2"/><circle cx="356.05" cy="131.28" r="2"/><circle cx="355.69" cy="101.51" r="2"/><circle cx="421.46" cy="55.49" r="2"/><circle cx="333.98" cy="126.17" r="2"/><circle cx="421.72" cy="43.14" r="2"/><circle cx="427.76" cy="48.73" r="2"/><circle cx="378.18" cy="98.89" r="2"/><circle cx="286.5" cy="176.78" r="2"/><circle cx="416.18" cy="59.2" r="2"/><circle cx="366.89" cy="92.75" r="2"/><circle cx="339.58" cy="120.56" r="2"/><circle cx="346.16" cy="116.93" r="2"/><circle cx="365.89" cy="117.97" r="2"/><circle cx="344.14" cy="117.32" r="2"/><circle cx="373.68" cy="102.94" r="2"/><circle cx="376.09" cy="99.66" r="2"/><circle cx="342.18" cy="143.44" r="2"/><circle cx="354.96" cy="135.46" r="2"/><circle cx="402.61" cy="68.12" r="2"/><circle cx="351.95" cy="135.44" r="2"/><circle cx="422.32" cy="53.49" r="2"/><circle cx="371.93" cy="105.9" r="2"/><circle cx="397.42" cy="63.21" r="2"/><circle cx="349.52" cy="136.52" r="2"/><circle cx="372.25" cy="108.16" r="2"/><circle cx="386.87" cy="73.01" r="2"/><circle cx="364.72" cy="118.52" r="2"/><circle cx="426.92" cy="49.02" r="2"/><circle cx="347.87" cy="137.85" r="2"/><circle cx="406.75" cy="65.6" r="2"/><circle cx="316.68" cy="146.54" r="2"/><circle cx="288.75" cy="167.78" r="2"/><circle cx="404.47" cy="59.3" r="2"/><circle cx="354.1" cy="104.36" r="2"/><circle cx="407.67" cy="63.75" r="2"/><circle cx="322.32" cy="163.82" r="2"/><circle cx="375.71" cy="100.75" r="2"/><circle cx="346.44" cy="140.79" r="2"/><circle cx="289.35" cy="168.5" r="2"/><circle cx="422.43" cy="43.98" r="2"/><circle cx="396.8" cy="63.45" r="2"/><circle cx="405.4" cy="67.89" r="2"/></g>
<g fill="#1f77b4"><circle cx="287.6" cy="147" r="2"/><circle cx="350" cy="147.2" r="2"/><circle cx="356.8" cy="138.7" r="2"/><circle cx="357.4" cy="134.9" r="2"/><circle cx="359.3" cy="130.5" r="2"/><circle cx="373.2" cy="122.6" r="2"/><circle cx="355.1" cy="96.8" r="2"/><circle cx="384.9" cy="96.6" r="2"/><circle cx="375.3" cy="105.7" r="2"/><circle cx="434.9" cy="33.2" r="2"/><circle cx="440.9" cy="31.3" r="2"/><circle cx="430.3" cy="51.1" r="2"/></g>
<line x1="283.5" y1="187" x2="427.3" y2="42.1" stroke="#ff7f0e" stroke-width="4.3" stroke-linecap="round"/>
<circle cx="430.2" cy="40" r="2" fill="#ff7f0e"/>
<circle cx="434.9" cy="34.9" r="2" fill="#ff7f0e"/>
<circle cx="440.9" cy="29.1" r="2" fill="#ff7f0e"/>
<path d="M517.58 179.18 L522.24 177.44 L525.7 175.71 L526.08 175.55 L528.54 174.73 L529.21 173.4 L529.35 173.15 L529.51 172.92 L529.7 172.7 L529.91 172.5 L530.14 172.33 L530.38 172.17 L530.64 172.04 L530.91 171.94 L534.59 170.75 L537.86 169.66 L542.14 166.99 L543.97 163.07 L544.1 162.83 L544.25 162.6 L544.42 162.39 L544.6 162.2 L544.81 162.02 L545.03 161.86 L545.26 161.73 L545.51 161.61 L549.02 160.19 L554.55 156.99 L554.81 156.86 L555.08 156.75 L555.37 156.67 L555.66 156.62 L555.95 156.6 L556.25 156.61 L556.54 156.65 L563.31 157.93 L569.39 156.39 L569.67 156.33 L569.95 156.3 L570.24 156.3 L570.52 156.33 L570.8 156.39 L577.6 158.09 L577.85 158.16 L578.1 158.26 L578.33 158.38 L578.55 158.52 L578.76 158.67 L578.95 158.85 L581.07 160.97 L581.83 154.61 L582.03 154.76 L582.43 155.13 L582.72 155.03 L583.44 154.82 L584.17 154.68 L584.91 154.61 L585.65 154.61 L586.39 154.67 L587.12 154.81 L587.83 155.01 L588.04 155.08 L590.38 151.45 L590.86 150.8 L591.4 150.19 L591.64 149.96 L587.68 147.27 L583.06 144.28 L585 128 L590.67 125.9 L591.86 125.9 L593.44 125.09 L594.13 124.77 L594.86 124.52 L595.6 124.34 L596.36 124.23 L597.13 124.2 L597.89 124.24 L598.65 124.35 L599.39 124.54 L600.12 124.79 L600.81 125.11 L600.9 125.17 L600.96 124.39 L601.11 123.6 L601.33 122.82 L601.66 121.83 L607.83 119.55 L607.85 119.47 L607.95 119.22 L608.07 118.98 L608.21 118.76 L608.37 118.55 L608.55 118.35 L611.47 115.43 L612.68 111.79 L611.19 105.91 L611.13 105.64 L611.1 105.37 L611.1 105.09 L611.13 104.82 L611.17 104.55 L611.25 104.28 L611.35 104.03 L611.47 103.78 L611.62 103.55 L614.11 99.95 L616.4 96.6 L617.48 92.12 L617.56 91.85 L617.67 91.58 L617.8 91.33 L617.96 91.09 L618.14 90.86 L618.35 90.66 L618.57 90.47 L623.1 87.09 L625.3 82.62 L625.48 82.31 L627.8 78.77 L629.59 74.07 L629.71 73.8 L629.86 73.54 L630.03 73.3 L632.33 70.4 L632.52 70.17 L632.74 69.97 L635.3 67.84 L636.94 64.75 L637.08 64.5 L637.25 64.27 L637.44 64.06 L637.65 63.87 L637.88 63.7 L641.58 61.2 L641.8 61.06 L642.04 60.94 L642.28 60.85 L644.36 60.16 L645.18 56.81 L645.26 56.56 L645.35 56.31 L645.47 56.08 L645.61 55.85 L645.77 55.64 L645.95 55.45 L649.65 51.75 L649.85 51.57 L650.06 51.41 L650.29 51.27 L653.94 49.23 L656.65 44.95 L656.82 44.71 L657.02 44.48 L659.62 41.79 L660.6 39.34 L662.5 34.45 L662.59 34.23 L664.23 30.87 L664.35 30.22 L662.47 30.83 L657.65 32.7 L657.6 32.72 L652.7 34.52 L652.59 34.56 L648.89 35.76 L648.63 35.83 L648.36 35.88 L644.55 36.35 L641.03 39.87 L637.41 44.08 L634.32 47.76 L634.15 47.95 L629.25 52.85 L629.01 53.06 L628.75 53.25 L628.48 53.4 L624.18 55.51 L622.19 58.08 L622.03 58.27 L621.84 58.46 L618.84 61.16 L618.77 61.22 L614.97 64.42 L614.93 64.45 L611.45 67.29 L612 72 L584.86 91.51 L581.82 92.13 L581.01 92.26 L580.2 92.3 L574.44 92.3 L570.33 94.3 L566.51 99.65 L566.05 100.24 L565.54 100.78 L564.97 101.27 L564.37 101.7 L559.77 104.7 L559.24 105.02 L558.69 105.29 L553.59 107.59 L552.8 107.9 L551.98 108.12 L551.15 108.26 L550.3 108.3 L548.61 108.3 L547.68 109.23 L545.63 112.23 L541.95 118.33 L541.3 119.26 L539.45 121.53 L538.75 124.93 L539.09 129.79 L535 140 L533.39 140 L532.75 141.92 L532.66 142.16 L532.55 142.39 L532.42 142.6 L532.26 142.81 L530.5 145.02 L530.5 148.2 L530.48 148.55 L530.41 148.9 L529.21 153.7 L529.12 154 L529 154.29 L528.85 154.56 L528.66 154.81 L526.63 157.36 L525.63 160.84 L525.06 164.28 L525 164.56 L524.91 164.83 L524.8 165.09 L524.66 165.34 L524.49 165.58 L522.43 168.23 L521.39 171.9 L521.3 172.15 L521.2 172.39 L521.07 172.62 L520.92 172.84 L517.32 177.64 L515.33 180.29 L517.3 179.31 L517.58 179.18Z" fill="#1f77b4"/>
<g fill="#1f77b4"><circle cx="559.51" cy="102.69" r="2"/><circle cx="536.39" cy="130.7" r="2"/><circle cx="602.27" cy="77.49" r="2"/><circle cx="587.99" cy="88.96" r="2"/><circle cx="589.64" cy="84.17" r="2"/><circle cx="537.23" cy="126.91" r="2"/><circle cx="538.91" cy="113.95" r="2"/><circle cx="574.99" cy="90.79" r="2"/><circle cx="535.65" cy="124.41" r="2"/><circle cx="603.66" cy="76" r="2"/><circle cx="584.56" cy="88.87" r="2"/><circle cx="576.42" cy="87.89" r="2"/><circle cx="538.31" cy="120.15" r="2"/><circle cx="539.12" cy="111.14" r="2"/><circle cx="568.84" cy="94.73" r="2"/><circle cx="540.87" cy="117.46" r="2"/><circle cx="604.26" cy="77.12" r="2"/><circle cx="578.42" cy="88.37" r="2"/><circle cx="564.19" cy="96.26" r="2"/><circle cx="537.69" cy="113.83" r="2"/><circle cx="571.13" cy="89.73" r="2"/><circle cx="545.52" cy="111.35" r="2"/><circle cx="577.66" cy="89.16" r="2"/><circle cx="534.07" cy="128.46" r="2"/><circle cx="608.33" cy="71.83" r="2"/><circle cx="605.56" cy="72.66" r="2"/><circle cx="573.12" cy="88.2" r="2"/><circle cx="593.98" cy="83.15" r="2"/><circle cx="573.7" cy="87" r="2"/><circle cx="583.43" cy="87.02" r="2"/><circle cx="610.23" cy="67.53" r="2"/><circle cx="550.92" cy="106.5" r="2"/><circle cx="544.62" cy="107.78" r="2"/><circle cx="584.43" cy="89.29" r="2"/><circle cx="593.69" cy="84.89" r="2"/><circle cx="561.7" cy="101.09" r="2"/><circle cx="568.59" cy="89.57" r="2"/><circle cx="546.1" cy="104.1" r="2"/><circle cx="544.5" cy="109.92" r="2"/><circle cx="607.76" cy="74.69" r="2"/><circle cx="605.75" cy="73.84" r="2"/><circle cx="602.75" cy="78.3" r="2"/><circle cx="572.59" cy="86.39" r="2"/><circle cx="558.93" cy="100.98" r="2"/><circle cx="573.36" cy="86.35" r="2"/><circle cx="566.46" cy="92.17" r="2"/><circle cx="565.72" cy="95.72" r="2"/><circle cx="567.79" cy="88.73" r="2"/><circle cx="604.72" cy="76.1" r="2"/><circle cx="574.9" cy="89.7" r="2"/><circle cx="568.24" cy="96.79" r="2"/><circle cx="574.62" cy="86.23" r="2"/><circle cx="533.86" cy="122.32" r="2"/><circle cx="539.98" cy="109.95" r="2"/><circle cx="538.28" cy="112.95" r="2"/><circle cx="536.73" cy="118.21" r="2"/><circle cx="575.3" cy="89.37" r="2"/><circle cx="546.5" cy="102.17" r="2"/><circle cx="576.13" cy="87.99" r="2"/><circle cx="580.12" cy="91.98" r="2"/><circle cx="554.62" cy="103.53" r="2"/><circle cx="580.73" cy="89.35" r="2"/><circle cx="572.12" cy="87.54" r="2"/><circle cx="535.3" cy="130.05" r="2"/><circle cx="561.37" cy="98" r="2"/><circle cx="534.74" cy="121.24" r="2"/><circle cx="546.23" cy="105.65" r="2"/><circle cx="549.79" cy="105.29" r="2"/><circle cx="552" cy="106.73" r="2"/><circle cx="576.83" cy="88.04" r="2"/><circle cx="538.67" cy="130.54" r="2"/><circle cx="561.87" cy="99.62" r="2"/><circle cx="538.22" cy="116.91" r="2"/><circle cx="540.23" cy="115.06" r="2"/><circle cx="603.2" cy="73.96" r="2"/><circle cx="597.39" cy="81.11" r="2"/><circle cx="533.21" cy="130.96" r="2"/><circle cx="543.62" cy="107.85" r="2"/><circle cx="587.16" cy="85.17" r="2"/><circle cx="584.96" cy="85.66" r="2"/><circle cx="547.99" cy="102.93" r="2"/><circle cx="554.52" cy="106.97" r="2"/><circle cx="548.25" cy="103.88" r="2"/><circle cx="569.37" cy="88.87" r="2"/><circle cx="536.33" cy="132.28" r="2"/><circle cx="583.87" cy="87.46" r="2"/><circle cx="571.81" cy="87.21" r="2"/><circle cx="534.58" cy="137.89" r="2"/><circle cx="589" cy="87.25" r="2"/><circle cx="547.46" cy="106.75" r="2"/><circle cx="576.09" cy="91.25" r="2"/><circle cx="607.29" cy="74.33" r="2"/><circle cx="605.76" cy="75.22" r="2"/><circle cx="533.16" cy="122.64" r="2"/><circle cx="538.8" cy="119.08" r="2"/><circle cx="565.63" cy="98.22" r="2"/><circle cx="597.46" cy="80.16" r="2"/><circle cx="558.69" cy="102.24" r="2"/><circle cx="556.38" cy="106.09" r="2"/><circle cx="598.54" cy="154.05" r="2"/><circle cx="601.38" cy="154.65" r="2"/><circle cx="591.47" cy="148.67" r="2"/><circle cx="591.47" cy="153.57" r="2"/><circle cx="581.81" cy="158.84" r="2"/><circle cx="601.42" cy="136.3" r="2"/><circle cx="594.7" cy="124.91" r="2"/><circle cx="588.58" cy="131.91" r="2"/><circle cx="585.72" cy="140.52" r="2"/><circle cx="590.09" cy="131.47" r="2"/><circle cx="603.85" cy="135.91" r="2"/><circle cx="582.53" cy="158.9" r="2"/><circle cx="593.93" cy="150" r="2"/><circle cx="594.81" cy="145.45" r="2"/><circle cx="603.74" cy="126.95" r="2"/><circle cx="591.15" cy="155.68" r="2"/><circle cx="588.18" cy="144.7" r="2"/><circle cx="601.85" cy="127.73" r="2"/><circle cx="605.57" cy="125.49" r="2"/><circle cx="593.52" cy="148.9" r="2"/><circle cx="603.85" cy="123.9" r="2"/><circle cx="584.99" cy="144.88" r="2"/><circle cx="581.42" cy="161.32" r="2"/><circle cx="584.04" cy="157.63" r="2"/><circle cx="585.21" cy="155.15" r="2"/><circle cx="590.34" cy="145.66" r="2"/><circle cx="607.3" cy="129.59" r="2"/><circle cx="602.74" cy="122.54" r="2"/><circle cx="583.88" cy="158.57" r="2"/><circle cx="590.4" cy="148.34" r="2"/><circle cx="591.62" cy="157.09" r="2"/><circle cx="597.92" cy="124.59" r="2"/><circle cx="599.98" cy="135.43" r="2"/><circle cx="591.35" cy="156.28" r="2"/><circle cx="585.81" cy="159.48" r="2"/><circle cx="603.34" cy="129.77" r="2"/><circle cx="594.36" cy="151.24" r="2"/><circle cx="585.6" cy="132.71" r="2"/><circle cx="601.28" cy="135.05" r="2"/><circle cx="604.06" cy="130.29" r="2"/><circle cx="586.99" cy="158.01" r="2"/><circle cx="584.85" cy="130.91" r="2"/><circle cx="604.16" cy="123.28" r="2"/><circle cx="607.12" cy="122.74" r="2"/><circle cx="585.54" cy="159.26" r="2"/><circle cx="591.49" cy="126.81" r="2"/><circle cx="596.59" cy="149.61" r="2"/><circle cx="587.19" cy="139.73" r="2"/><circle cx="589.69" cy="131.41" r="2"/><circle cx="585.22" cy="131.4" r="2"/><circle cx="593.24" cy="132.17" r="2"/><circle cx="604" cy="132.32" r="2"/><circle cx="584.16" cy="141.2" r="2"/><circle cx="600.46" cy="132.73" r="2"/><circle cx="602.25" cy="127.49" r="2"/><circle cx="593.15" cy="156.9" r="2"/><circle cx="588.14" cy="155.25" r="2"/><circle cx="600.23" cy="126.57" r="2"/><circle cx="601.17" cy="134.43" r="2"/><circle cx="592.49" cy="150.34" r="2"/><circle cx="589.12" cy="130.46" r="2"/><circle cx="587.49" cy="131.67" r="2"/><circle cx="608.17" cy="120.3" r="2"/><circle cx="592.19" cy="143.34" r="2"/><circle cx="591.09" cy="130.82" r="2"/><circle cx="601.26" cy="129.55" r="2"/><circle cx="589.31" cy="141.31" r="2"/><circle cx="584.9" cy="155.89" r="2"/><circle cx="592.59" cy="154.68" r="2"/><circle cx="592.19" cy="152.48" r="2"/><circle cx="600.4" cy="129.86" r="2"/><circle cx="601.88" cy="153.46" r="2"/><circle cx="656.76" cy="32.87" r="2"/><circle cx="663.65" cy="34.42" r="2"/><circle cx="628.75" cy="76.52" r="2"/><circle cx="517.14" cy="178.08" r="2"/><circle cx="609.22" cy="116.88" r="2"/><circle cx="524.44" cy="162.94" r="2"/><circle cx="628.76" cy="78.96" r="2"/><circle cx="657.13" cy="43.85" r="2"/><circle cx="529.96" cy="144.45" r="2"/><circle cx="520.48" cy="172.67" r="2"/><circle cx="629.99" cy="52.1" r="2"/><circle cx="624.22" cy="86.32" r="2"/><circle cx="632.64" cy="50.28" r="2"/><circle cx="630.23" cy="72.63" r="2"/><circle cx="633.61" cy="69.81" r="2"/><circle cx="613.64" cy="100.2" r="2"/><circle cx="526.81" cy="175.46" r="2"/><circle cx="615.59" cy="63.4" r="2"/><circle cx="616.49" cy="97.22" r="2"/><circle cx="531.93" cy="141.5" r="2"/><circle cx="626.33" cy="82.16" r="2"/><circle cx="627.03" cy="80.89" r="2"/><circle cx="577.17" cy="157.87" r="2"/><circle cx="580.56" cy="161.39" r="2"/><circle cx="612.05" cy="66.82" r="2"/><circle cx="631.38" cy="73.17" r="2"/><circle cx="629.04" cy="77.47" r="2"/><circle cx="612.06" cy="108.65" r="2"/><circle cx="531.63" cy="171.75" r="2"/><circle cx="519.12" cy="173.99" r="2"/><circle cx="662.51" cy="33.84" r="2"/><circle cx="660.39" cy="30.48" r="2"/><circle cx="631.67" cy="72.22" r="2"/><circle cx="626.05" cy="53.28" r="2"/><circle cx="655.51" cy="33.44" r="2"/><circle cx="519.65" cy="175.64" r="2"/><circle cx="611.35" cy="66.14" r="2"/><circle cx="552.28" cy="159.48" r="2"/><circle cx="612.71" cy="115" r="2"/><circle cx="647.1" cy="55.69" r="2"/><circle cx="518.74" cy="175.48" r="2"/><circle cx="521.96" cy="171.46" r="2"/><circle cx="543.14" cy="163.71" r="2"/><circle cx="565.02" cy="158" r="2"/><circle cx="652.15" cy="49.7" r="2"/><circle cx="583.69" cy="137.37" r="2"/><circle cx="621.69" cy="87.67" r="2"/><circle cx="569.97" cy="156.43" r="2"/><circle cx="612.18" cy="111.01" r="2"/><circle cx="572.03" cy="157.13" r="2"/><circle cx="665.22" cy="30.08" r="2"/><circle cx="578.09" cy="157.51" r="2"/><circle cx="651.72" cy="49.95" r="2"/><circle cx="527.36" cy="155.17" r="2"/><circle cx="636.06" cy="67.93" r="2"/><circle cx="640.66" cy="61.84" r="2"/><circle cx="522.63" cy="178.19" r="2"/><circle cx="659.83" cy="41.22" r="2"/><circle cx="558.71" cy="158.28" r="2"/><circle cx="620.99" cy="59.48" r="2"/><circle cx="652.41" cy="49.31" r="2"/><circle cx="519.71" cy="173.72" r="2"/><circle cx="621.07" cy="58.77" r="2"/><circle cx="615.49" cy="99.42" r="2"/><circle cx="546.25" cy="162.19" r="2"/><circle cx="647.03" cy="35.72" r="2"/><circle cx="525.34" cy="163.83" r="2"/><circle cx="516.33" cy="179.21" r="2"/><circle cx="517.83" cy="176.03" r="2"/><circle cx="637" cy="45.55" r="2"/><circle cx="616.38" cy="95.82" r="2"/><circle cx="617.74" cy="95.97" r="2"/><circle cx="562.87" cy="158.56" r="2"/><circle cx="531.54" cy="142.53" r="2"/><circle cx="618.27" cy="60.21" r="2"/><circle cx="516.77" cy="180.35" r="2"/><circle cx="643.28" cy="35.98" r="2"/><circle cx="655.41" cy="48.08" r="2"/><circle cx="630.14" cy="72.91" r="2"/><circle cx="650.64" cy="35.24" r="2"/><circle cx="521.05" cy="177.61" r="2"/><circle cx="644.01" cy="61.34" r="2"/><circle cx="656.66" cy="32.35" r="2"/><circle cx="546.45" cy="160.64" r="2"/><circle cx="564.03" cy="157.62" r="2"/><circle cx="658.58" cy="43.15" r="2"/><circle cx="659.11" cy="31.47" r="2"/><circle cx="529.66" cy="152" r="2"/><circle cx="627.39" cy="79.62" r="2"/><circle cx="645.83" cy="57.21" r="2"/><circle cx="656.8" cy="45.52" r="2"/><circle cx="523.68" cy="167.54" r="2"/><circle cx="526.33" cy="159.47" r="2"/><circle cx="513.15" cy="181.56" r="2"/><circle cx="622.61" cy="55.72" r="2"/><circle cx="613.96" cy="66.04" r="2"/><circle cx="631.88" cy="49.04" r="2"/><circle cx="532.81" cy="170.87" r="2"/><circle cx="528.41" cy="153.43" r="2"/><circle cx="521.58" cy="168.45" r="2"/><circle cx="566.52" cy="157.66" r="2"/><circle cx="521.06" cy="173.25" r="2"/><circle cx="650.44" cy="35.08" r="2"/><circle cx="621.85" cy="59.34" r="2"/><circle cx="548.03" cy="161.53" r="2"/><circle cx="525.82" cy="175.03" r="2"/><circle cx="630.83" cy="73.36" r="2"/><circle cx="539.04" cy="169.77" r="2"/><circle cx="534.4" cy="170.3" r="2"/><circle cx="564.04" cy="157.71" r="2"/><circle cx="521.52" cy="171.21" r="2"/><circle cx="632.4" cy="50.59" r="2"/><circle cx="620.41" cy="60.43" r="2"/><circle cx="655.25" cy="48.15" r="2"/><circle cx="523.86" cy="166.18" r="2"/><circle cx="631.3" cy="72.82" r="2"/><circle cx="626.99" cy="80.04" r="2"/><circle cx="610.26" cy="118.31" r="2"/><circle cx="525.07" cy="163.87" r="2"/><circle cx="615.25" cy="98.63" r="2"/><circle cx="519.2" cy="178.85" r="2"/><circle cx="543.63" cy="165.37" r="2"/><circle cx="625.26" cy="84.13" r="2"/><circle cx="571.35" cy="156.34" r="2"/><circle cx="658.31" cy="31.61" r="2"/><circle cx="656.63" cy="44.3" r="2"/><circle cx="545.94" cy="162" r="2"/><circle cx="655.35" cy="33.92" r="2"/><circle cx="565.92" cy="157.74" r="2"/><circle cx="627.15" cy="53.77" r="2"/><circle cx="663.28" cy="35.31" r="2"/><circle cx="640.32" cy="62.84" r="2"/><circle cx="576.93" cy="157.25" r="2"/><circle cx="635.8" cy="44.61" r="2"/><circle cx="662.14" cy="34.56" r="2"/><circle cx="652.68" cy="34.27" r="2"/><circle cx="632.82" cy="49.33" r="2"/><circle cx="522.32" cy="169.96" r="2"/><circle cx="635.28" cy="68.58" r="2"/><circle cx="514.98" cy="180.47" r="2"/><circle cx="524.26" cy="175.94" r="2"/><circle cx="565.67" cy="157.2" r="2"/><circle cx="626.74" cy="80.21" r="2"/><circle cx="653.54" cy="50.19" r="2"/><circle cx="627.6" cy="54.6" r="2"/><circle cx="544.88" cy="162.49" r="2"/><circle cx="549.81" cy="159.38" r="2"/><circle cx="607.84" cy="118.3" r="2"/><circle cx="612.4" cy="102.52" r="2"/><circle cx="551.9" cy="159.44" r="2"/><circle cx="559.75" cy="156.76" r="2"/><circle cx="643.28" cy="37.1" r="2"/><circle cx="644.39" cy="37.02" r="2"/><circle cx="518.98" cy="178.56" r="2"/><circle cx="656.94" cy="44.02" r="2"/><circle cx="608.59" cy="118.42" r="2"/><circle cx="644.92" cy="35.43" r="2"/><circle cx="618.91" cy="90.23" r="2"/><circle cx="528.55" cy="154.96" r="2"/><circle cx="614.1" cy="64.56" r="2"/></g>
<g fill="#1f77b4"><circle cx="528.8" cy="177.7" r="2"/><circle cx="541.5" cy="93.9" r="2"/><circle cx="549.1" cy="92.7" r="2"/><circle cx="552.9" cy="93.9" r="2"/><circle cx="555.4" cy="96.5" r="2"/><circle cx="546.5" cy="99" r="2"/><circle cx="558" cy="84.4" r="2"/><circle cx="561.8" cy="83.8" r="2"/><circle cx="563" cy="91.4" r="2"/><circle cx="566.8" cy="87.6" r="2"/><circle cx="569.4" cy="91.4" r="2"/><circle cx="573.2" cy="87.6" r="2"/><circle cx="575.7" cy="83.8" r="2"/><circle cx="577" cy="80.6" r="2"/><circle cx="577.7" cy="70.6" r="2"/><circle cx="590.3" cy="63" r="2"/><circle cx="594.7" cy="65.6" r="2"/><circle cx="591.6" cy="71.4" r="2"/><circle cx="593.5" cy="71.4" r="2"/><circle cx="581.5" cy="76.1" r="2"/><circle cx="587.2" cy="75.7" r="2"/><circle cx="576.1" cy="80.5" r="2"/><circle cx="603" cy="60.3" r="2"/><circle cx="605.5" cy="60.9" r="2"/><circle cx="603.6" cy="66.6" r="2"/><circle cx="597.9" cy="77.3" r="2"/><circle cx="637" cy="75.2" r="2"/><circle cx="636.8" cy="75.7" r="2"/><circle cx="638.7" cy="80.1" r="2"/><circle cx="636.1" cy="70.6" r="2"/><circle cx="627.3" cy="89.6" r="2"/><circle cx="623.5" cy="100.1" r="2"/><circle cx="620.3" cy="103.5" r="2"/><circle cx="629.8" cy="106.3" r="2"/><circle cx="640.8" cy="95.7" r="2"/><circle cx="615.3" cy="115.6" r="2"/><circle cx="617.8" cy="128.2" r="2"/><circle cx="616" cy="142.1" r="2"/><circle cx="642.1" cy="153.1" r="2"/><circle cx="603.1" cy="158.1" r="2"/><circle cx="602.7" cy="158.4" r="2"/><circle cx="600.5" cy="155.4" r="2"/><circle cx="596.8" cy="153.7" r="2"/><circle cx="590.9" cy="163.5" r="2"/><circle cx="593.1" cy="161.3" r="2"/><circle cx="567.3" cy="160.6" r="2"/><circle cx="571.7" cy="165.8" r="2"/><circle cx="577.2" cy="168.7" r="2"/><circle cx="576.9" cy="161.3" r="2"/><circle cx="548.9" cy="165.8" r="2"/><circle cx="544.4" cy="170.9" r="2"/></g>
<line x1="507.6" y1="187.2" x2="665.8" y2="29" stroke="#ff7f0e" stroke-width="4.3" stroke-linecap="round"/>
<rect x="50.5" y="21.2" width="173.4" height="173.5" fill="none" stroke="rgba(0,0,0,0.38)" stroke-width="1.3"/>
<path d="M58.7 194.7v2.3 M130.6 194.7v2.3 M202.5 194.7v2.3 M50.5 187.3h-2.3 M50.5 151.1h-2.3 M50.5 114.9h-2.3 M50.5 78.7h-2.3 M50.5 42.5h-2.3" stroke="#333" stroke-width="0.9" fill="none"/>
<path d="M76.68 194.7v1.3 M94.65 194.7v1.3 M112.62 194.7v1.3 M148.57 194.7v1.3 M166.55 194.7v1.3 M184.53 194.7v1.3 M220.48 194.7v1.3 M50.5 180.06h-1.3 M50.5 172.82h-1.3 M50.5 165.58h-1.3 M50.5 158.34h-1.3 M50.5 143.86h-1.3 M50.5 136.62h-1.3 M50.5 129.38h-1.3 M50.5 122.14h-1.3 M50.5 107.66h-1.3 M50.5 100.42h-1.3 M50.5 93.18h-1.3 M50.5 85.94h-1.3 M50.5 71.46h-1.3 M50.5 64.22h-1.3 M50.5 56.98h-1.3 M50.5 49.74h-1.3 M50.5 35.26h-1.3 M50.5 28.02h-1.3" stroke="#333" stroke-width="0.7" fill="none"/>
<rect x="275.5" y="21.2" width="173.4" height="173.5" fill="none" stroke="rgba(0,0,0,0.38)" stroke-width="1.3"/>
<path d="M283.7 194.7v2.3 M354.6 194.7v2.3 M425.5 194.7v2.3 M275.5 187.2h-2.3 M275.5 151.55h-2.3 M275.5 115.9h-2.3 M275.5 80.25h-2.3 M275.5 44.6h-2.3" stroke="#333" stroke-width="0.9" fill="none"/>
<path d="M301.43 194.7v1.3 M319.15 194.7v1.3 M336.88 194.7v1.3 M372.32 194.7v1.3 M390.05 194.7v1.3 M407.77 194.7v1.3 M443.23 194.7v1.3 M275.5 180.07h-1.3 M275.5 172.94h-1.3 M275.5 165.81h-1.3 M275.5 158.68h-1.3 M275.5 144.42h-1.3 M275.5 137.29h-1.3 M275.5 130.16h-1.3 M275.5 123.03h-1.3 M275.5 108.77h-1.3 M275.5 101.64h-1.3 M275.5 94.51h-1.3 M275.5 87.38h-1.3 M275.5 73.12h-1.3 M275.5 65.99h-1.3 M275.5 58.86h-1.3 M275.5 51.73h-1.3 M275.5 37.47h-1.3 M275.5 30.34h-1.3 M275.5 23.21h-1.3" stroke="#333" stroke-width="0.7" fill="none"/>
<rect x="500.4" y="21.2" width="173.2" height="173.5" fill="none" stroke="rgba(0,0,0,0.38)" stroke-width="1.3"/>
<path d="M508.3 194.7v2.3 M590.4 194.7v2.3 M672.5 194.7v2.3 M500.4 187.2h-2.3 M500.4 154.1h-2.3 M500.4 121h-2.3 M500.4 87.9h-2.3 M500.4 54.8h-2.3 M500.4 21.7h-2.3" stroke="#333" stroke-width="0.9" fill="none"/>
<path d="M524.72 194.7v1.3 M541.14 194.7v1.3 M557.56 194.7v1.3 M573.98 194.7v1.3 M606.82 194.7v1.3 M623.24 194.7v1.3 M639.66 194.7v1.3 M656.08 194.7v1.3 M500.4 178.92h-1.3 M500.4 170.65h-1.3 M500.4 162.38h-1.3 M500.4 145.82h-1.3 M500.4 137.55h-1.3 M500.4 129.27h-1.3 M500.4 112.72h-1.3 M500.4 104.45h-1.3 M500.4 96.17h-1.3 M500.4 79.62h-1.3 M500.4 71.35h-1.3 M500.4 63.07h-1.3 M500.4 46.52h-1.3 M500.4 38.25h-1.3 M500.4 29.97h-1.3" stroke="#333" stroke-width="0.7" fill="none"/>
<rect x="50.5" y="264.8" width="173.4" height="173.5" fill="none" stroke="rgba(0,0,0,0.38)" stroke-width="1.3"/>
<path d="M58.38 438.3v2.3 M137.2 438.3v2.3 M216.02 438.3v2.3 M50.5 438.3h-2.3 M50.5 394.95h-2.3 M50.5 351.6h-2.3 M50.5 308.25h-2.3 M50.5 264.9h-2.3" stroke="#333" stroke-width="0.9" fill="none"/>
<path d="M78.09 438.3v1.3 M97.79 438.3v1.3 M117.5 438.3v1.3 M156.9 438.3v1.3 M176.61 438.3v1.3 M196.31 438.3v1.3 M50.5 429.63h-1.3 M50.5 420.96h-1.3 M50.5 412.29h-1.3 M50.5 403.62h-1.3 M50.5 386.28h-1.3 M50.5 377.61h-1.3 M50.5 368.94h-1.3 M50.5 360.27h-1.3 M50.5 342.93h-1.3 M50.5 334.26h-1.3 M50.5 325.59h-1.3 M50.5 316.92h-1.3 M50.5 299.58h-1.3 M50.5 290.91h-1.3 M50.5 282.24h-1.3 M50.5 273.57h-1.3" stroke="#333" stroke-width="0.7" fill="none"/>
<rect x="275.5" y="264.8" width="173.4" height="173.5" fill="none" stroke="rgba(0,0,0,0.38)" stroke-width="1.3"/>
<path d="M283.38 438.3v2.3 M362.2 438.3v2.3 M441.02 438.3v2.3 M275.5 438.3h-2.3 M275.5 395.38h-2.3 M275.5 352.45h-2.3 M275.5 309.53h-2.3 M275.5 266.6h-2.3" stroke="#333" stroke-width="0.9" fill="none"/>
<path d="M303.09 438.3v1.3 M322.79 438.3v1.3 M342.5 438.3v1.3 M381.9 438.3v1.3 M401.61 438.3v1.3 M421.31 438.3v1.3 M275.5 429.72h-1.3 M275.5 421.13h-1.3 M275.5 412.55h-1.3 M275.5 403.96h-1.3 M275.5 386.79h-1.3 M275.5 378.21h-1.3 M275.5 369.62h-1.3 M275.5 361.04h-1.3 M275.5 343.87h-1.3 M275.5 335.28h-1.3 M275.5 326.7h-1.3 M275.5 318.11h-1.3 M275.5 300.94h-1.3 M275.5 292.36h-1.3 M275.5 283.77h-1.3 M275.5 275.19h-1.3" stroke="#333" stroke-width="0.7" fill="none"/>
<rect x="500.4" y="264.8" width="173.2" height="173.5" fill="none" stroke="rgba(0,0,0,0.38)" stroke-width="1.3"/>
<path d="M508.27 438.3v2.3 M587 438.3v2.3 M665.73 438.3v2.3 M500.4 438.3h-2.3 M500.4 394.95h-2.3 M500.4 351.6h-2.3 M500.4 308.25h-2.3 M500.4 264.9h-2.3" stroke="#333" stroke-width="0.9" fill="none"/>
<path d="M527.95 438.3v1.3 M547.64 438.3v1.3 M567.32 438.3v1.3 M606.68 438.3v1.3 M626.36 438.3v1.3 M646.05 438.3v1.3 M500.4 429.63h-1.3 M500.4 420.96h-1.3 M500.4 412.29h-1.3 M500.4 403.62h-1.3 M500.4 386.28h-1.3 M500.4 377.61h-1.3 M500.4 368.94h-1.3 M500.4 360.27h-1.3 M500.4 342.93h-1.3 M500.4 334.26h-1.3 M500.4 325.59h-1.3 M500.4 316.92h-1.3 M500.4 299.58h-1.3 M500.4 290.91h-1.3 M500.4 282.24h-1.3 M500.4 273.57h-1.3" stroke="#333" stroke-width="0.7" fill="none"/>
<g class="txt">
<g transform="matrix(1.0287 0 0 1 -1.299 0)"><text x="58.7" y="208.6" font-size="12.11" text-anchor="middle" fill="#000" textLength="7.57" lengthAdjust="spacingAndGlyphs" id="xta0" >0</text></g>
<g transform="matrix(0.9858 0 0 1 2.069 0)"><text x="130.6" y="208.6" font-size="12.11" text-anchor="middle" fill="#000" textLength="7.57" lengthAdjust="spacingAndGlyphs" id="xta1" >2</text></g>
<g transform="matrix(1.0127 0 0 1 -2.357 0)"><text x="202.5" y="208.6" font-size="12.11" text-anchor="middle" fill="#000" textLength="7.57" lengthAdjust="spacingAndGlyphs" id="xta2" >4</text></g>
<g transform="matrix(1.0292 0 0 1 -1.593 0)"><text x="47.09" y="191.7" font-size="12.11" text-anchor="end" fill="#000" textLength="7.57" lengthAdjust="spacingAndGlyphs" id="yta0" >0</text></g>
<g transform="matrix(0.9836 0 0 1 0.449 0)"><text x="47.09" y="155.5" font-size="12.11" text-anchor="end" fill="#000" textLength="7.57" lengthAdjust="spacingAndGlyphs" id="yta1" >1</text></g>
<g transform="matrix(1.0356 0 0 1 -1.578 0)"><text x="47.09" y="119.3" font-size="12.11" text-anchor="end" fill="#000" textLength="7.57" lengthAdjust="spacingAndGlyphs" id="yta2" >2</text></g>
<g transform="matrix(1.0614 0 0 1 -3.167 0)"><text x="47.09" y="83.1" font-size="12.11" text-anchor="end" fill="#000" textLength="7.57" lengthAdjust="spacingAndGlyphs" id="yta3" >3</text></g>
<g transform="matrix(1.0509 0 0 1 -2.573 0)"><text x="47.09" y="46.9" font-size="12.11" text-anchor="end" fill="#000" textLength="7.57" lengthAdjust="spacingAndGlyphs" id="yta4" >4</text></g>
<g transform="matrix(1.0287 0 0 1 -7.749 0)"><text x="283.7" y="208.6" font-size="12.11" text-anchor="middle" fill="#000" textLength="7.57" lengthAdjust="spacingAndGlyphs" id="xtb0" >0</text></g>
<g transform="matrix(1.0369 0 0 1 -12.912 0)"><text x="354.6" y="208.6" font-size="12.11" text-anchor="middle" fill="#000" textLength="7.57" lengthAdjust="spacingAndGlyphs" id="xtb1" >2</text></g>
<g transform="matrix(1.0127 0 0 1 -5.198 0)"><text x="425.5" y="208.6" font-size="12.11" text-anchor="middle" fill="#000" textLength="7.57" lengthAdjust="spacingAndGlyphs" id="xtb2" >4</text></g>
<g transform="matrix(1.0292 0 0 1 -8.165 0)"><text x="272.09" y="191.6" font-size="12.11" text-anchor="end" fill="#000" textLength="7.57" lengthAdjust="spacingAndGlyphs" id="ytb0" >0</text></g>
<g transform="matrix(0.9836 0 0 1 4.134 0)"><text x="272.09" y="155.95" font-size="12.11" text-anchor="end" fill="#000" textLength="7.57" lengthAdjust="spacingAndGlyphs" id="ytb1" >1</text></g>
<g transform="matrix(1.0356 0 0 1 -9.577 0)"><text x="272.09" y="120.3" font-size="12.11" text-anchor="end" fill="#000" textLength="7.57" lengthAdjust="spacingAndGlyphs" id="ytb2" >2</text></g>
<g transform="matrix(1.0614 0 0 1 -16.973 0)"><text x="272.09" y="84.65" font-size="12.11" text-anchor="end" fill="#000" textLength="7.57" lengthAdjust="spacingAndGlyphs" id="ytb3" >3</text></g>
<g transform="matrix(1.0509 0 0 1 -14.022 0)"><text x="272.09" y="49" font-size="12.11" text-anchor="end" fill="#000" textLength="7.57" lengthAdjust="spacingAndGlyphs" id="ytb4" >4</text></g>
<g transform="matrix(1.0264 0 0 1 -13.198 0)"><text x="508.3" y="208.6" font-size="12.11" text-anchor="middle" fill="#000" textLength="18.93" lengthAdjust="spacingAndGlyphs" id="xtc0" >0.0</text></g>
<g transform="matrix(1.0190 0 0 1 -11.047 0)"><text x="590.4" y="208.6" font-size="12.11" text-anchor="middle" fill="#000" textLength="18.93" lengthAdjust="spacingAndGlyphs" id="xtc1" >0.5</text></g>
<g transform="matrix(1.0204 0 0 1 -13.685 0)"><text x="672.5" y="208.6" font-size="12.11" text-anchor="middle" fill="#000" textLength="18.93" lengthAdjust="spacingAndGlyphs" id="xtc2" >1.0</text></g>
<g transform="matrix(1.0385 0 0 1 -19.213 0)"><text x="496.99" y="191.6" font-size="12.11" text-anchor="end" fill="#000" textLength="18.93" lengthAdjust="spacingAndGlyphs" id="ytc0" >0.0</text></g>
<g transform="matrix(1.0011 0 0 1 -0.792 0)"><text x="496.99" y="158.5" font-size="12.11" text-anchor="end" fill="#000" textLength="18.93" lengthAdjust="spacingAndGlyphs" id="ytc1" >0.2</text></g>
<g transform="matrix(1.0437 0 0 1 -21.974 0)"><text x="496.99" y="125.4" font-size="12.11" text-anchor="end" fill="#000" textLength="18.93" lengthAdjust="spacingAndGlyphs" id="ytc2" >0.4</text></g>
<g transform="matrix(1.0362 0 0 1 -18.017 0)"><text x="496.99" y="92.3" font-size="12.11" text-anchor="end" fill="#000" textLength="18.93" lengthAdjust="spacingAndGlyphs" id="ytc3" >0.6</text></g>
<g transform="matrix(1.0420 0 0 1 -20.897 0)"><text x="496.99" y="59.2" font-size="12.11" text-anchor="end" fill="#000" textLength="18.93" lengthAdjust="spacingAndGlyphs" id="ytc4" >0.8</text></g>
<g transform="matrix(1.0200 0 0 1 -10.218 0)"><text x="496.99" y="26.1" font-size="12.11" text-anchor="end" fill="#000" textLength="18.93" lengthAdjust="spacingAndGlyphs" id="ytc5" >1.0</text></g>
<g transform="matrix(1.0307 0 0 1 -1.769 0)"><text x="58.38" y="451.6" font-size="12.11" text-anchor="middle" fill="#000" textLength="25.11" lengthAdjust="spacingAndGlyphs" id="xtd0" >−20</text></g>
<g transform="matrix(1.0328 0 0 1 -4.327 0)"><text x="137.2" y="451.6" font-size="12.11" text-anchor="middle" fill="#000" textLength="7.57" lengthAdjust="spacingAndGlyphs" id="xtd1" >0</text></g>
<g transform="matrix(1.0191 0 0 1 -4.022 0)"><text x="216.02" y="451.6" font-size="12.11" text-anchor="middle" fill="#000" textLength="15.14" lengthAdjust="spacingAndGlyphs" id="xtd2" >20</text></g>
<g transform="matrix(1.0238 0 0 1 -1.135 0)"><text x="47.09" y="443.4" font-size="12.11" text-anchor="end" fill="#000" textLength="26.5" lengthAdjust="spacingAndGlyphs" id="ytd0" >0.00</text></g>
<g transform="matrix(1.0430 0 0 1 -1.561 0)"><text x="47.09" y="400.05" font-size="12.11" text-anchor="end" fill="#000" textLength="26.5" lengthAdjust="spacingAndGlyphs" id="ytd1" >0.05</text></g>
<g transform="matrix(1.0238 0 0 1 -1.135 0)"><text x="47.09" y="356.7" font-size="12.11" text-anchor="end" fill="#000" textLength="26.5" lengthAdjust="spacingAndGlyphs" id="ytd2" >0.10</text></g>
<g transform="matrix(1.0430 0 0 1 -1.561 0)"><text x="47.09" y="313.35" font-size="12.11" text-anchor="end" fill="#000" textLength="26.5" lengthAdjust="spacingAndGlyphs" id="ytd3" >0.15</text></g>
<g transform="matrix(1.0238 0 0 1 -1.135 0)"><text x="47.09" y="270" font-size="12.11" text-anchor="end" fill="#000" textLength="26.5" lengthAdjust="spacingAndGlyphs" id="ytd4" >0.20</text></g>
<g transform="matrix(1.0287 0 0 1 -8.139 0)"><text x="283.38" y="451.6" font-size="12.11" text-anchor="middle" fill="#000" textLength="25.11" lengthAdjust="spacingAndGlyphs" id="xte0" >−20</text></g>
<g transform="matrix(1.0328 0 0 1 -11.716 0)"><text x="362.2" y="451.6" font-size="12.11" text-anchor="middle" fill="#000" textLength="7.57" lengthAdjust="spacingAndGlyphs" id="xte1" >0</text></g>
<g transform="matrix(1.0193 0 0 1 -8.407 0)"><text x="441.02" y="451.6" font-size="12.11" text-anchor="middle" fill="#000" textLength="15.14" lengthAdjust="spacingAndGlyphs" id="xte2" >20</text></g>
<g transform="matrix(1.0238 0 0 1 -6.497 0)"><text x="272.09" y="443.4" font-size="12.11" text-anchor="end" fill="#000" textLength="26.5" lengthAdjust="spacingAndGlyphs" id="yte0" >0.00</text></g>
<g transform="matrix(1.0251 0 0 1 -6.385 0)"><text x="272.09" y="400.48" font-size="12.11" text-anchor="end" fill="#000" textLength="26.5" lengthAdjust="spacingAndGlyphs" id="yte1" >0.05</text></g>
<g transform="matrix(1.0238 0 0 1 -6.497 0)"><text x="272.09" y="357.55" font-size="12.11" text-anchor="end" fill="#000" textLength="26.5" lengthAdjust="spacingAndGlyphs" id="yte2" >0.10</text></g>
<g transform="matrix(1.0251 0 0 1 -6.385 0)"><text x="272.09" y="314.63" font-size="12.11" text-anchor="end" fill="#000" textLength="26.5" lengthAdjust="spacingAndGlyphs" id="yte3" >0.15</text></g>
<g transform="matrix(1.0238 0 0 1 -6.497 0)"><text x="272.09" y="271.7" font-size="12.11" text-anchor="end" fill="#000" textLength="26.5" lengthAdjust="spacingAndGlyphs" id="yte4" >0.20</text></g>
<g transform="matrix(1.0381 0 0 1 -19.388 0)"><text x="508.27" y="451.6" font-size="12.11" text-anchor="middle" fill="#000" textLength="25.11" lengthAdjust="spacingAndGlyphs" id="xtf0" >−20</text></g>
<g transform="matrix(1.0571 0 0 1 -33.375 0)"><text x="587" y="451.6" font-size="12.11" text-anchor="middle" fill="#000" textLength="7.57" lengthAdjust="spacingAndGlyphs" id="xtf1" >0</text></g>
<g transform="matrix(1.0364 0 0 1 -24.085 0)"><text x="665.73" y="451.6" font-size="12.11" text-anchor="middle" fill="#000" textLength="15.14" lengthAdjust="spacingAndGlyphs" id="xtf2" >20</text></g>
<g transform="matrix(1.0162 0 0 1 -8.258 0)"><text x="496.99" y="443.4" font-size="12.11" text-anchor="end" fill="#000" textLength="26.5" lengthAdjust="spacingAndGlyphs" id="ytf0" >0.00</text></g>
<g transform="matrix(1.0111 0 0 1 -5.473 0)"><text x="496.99" y="400.05" font-size="12.11" text-anchor="end" fill="#000" textLength="26.5" lengthAdjust="spacingAndGlyphs" id="ytf1" >0.05</text></g>
<g transform="matrix(1.0162 0 0 1 -8.258 0)"><text x="496.99" y="356.7" font-size="12.11" text-anchor="end" fill="#000" textLength="26.5" lengthAdjust="spacingAndGlyphs" id="ytf2" >0.10</text></g>
<g transform="matrix(1.0111 0 0 1 -5.473 0)"><text x="496.99" y="313.35" font-size="12.11" text-anchor="end" fill="#000" textLength="26.5" lengthAdjust="spacingAndGlyphs" id="ytf3" >0.15</text></g>
<g transform="matrix(1.0162 0 0 1 -8.258 0)"><text x="496.99" y="270" font-size="12.11" text-anchor="end" fill="#000" textLength="26.5" lengthAdjust="spacingAndGlyphs" id="ytf4" >0.20</text></g>
<g transform="matrix(1.0112 0 0 1 -0.065 0)"><text x="128.3" y="16.8" font-size="15.78" text-anchor="end" fill="#000" textLength="77.39" lengthAdjust="spacingAndGlyphs" id="tna" >Extinction</text></g>
<g transform="matrix(0.8469 0 0 1 20.338 0)"><text x="134.9" y="16.8" font-size="15.78" text-anchor="start" fill="#000" textLength="6.05" lengthAdjust="spacingAndGlyphs" id="tb1a" >[</text></g>
<g transform="matrix(0.9564 0 0 1 6.138 0)"><text x="140.7" y="16.8" font-size="15.78" text-anchor="start" fill="#000" textLength="10.77" lengthAdjust="spacingAndGlyphs" id="tRa" font-style="italic">R</text></g>
<g transform="matrix(0.9395 0 0 1 8.981 0)"><text x="153.2" y="11.9" font-size="11.36" text-anchor="start" fill="#000" textLength="7.1" lengthAdjust="spacingAndGlyphs" id="t2a" >2</text></g>
<g transform="matrix(0.9913 0 0 1 0.407 0)"><text x="160.7" y="17.5" font-size="15.78" text-anchor="start" fill="#000" textLength="12.99" lengthAdjust="spacingAndGlyphs" id="teqa" >=</text></g>
<g transform="matrix(1.0170 0 0 1 -3.305 0)"><text x="173.3" y="16.8" font-size="15.78" text-anchor="start" fill="#000" textLength="44.37" lengthAdjust="spacingAndGlyphs" id="tva" >0.992</text></g>
<g transform="matrix(0.9800 0 0 1 5.730 0)"><text x="223.4" y="16.8" font-size="15.78" text-anchor="end" fill="#000" textLength="6.05" lengthAdjust="spacingAndGlyphs" id="tb2a" >]</text></g>
<g transform="matrix(1.0098 0 0 1 -2.280 0)"><text x="354" y="16.8" font-size="15.78" text-anchor="end" fill="#000" textLength="79.89" lengthAdjust="spacingAndGlyphs" id="tnb" >Scattering</text></g>
<g transform="matrix(0.7973 0 0 1 72.895 0)"><text x="360.6" y="16.8" font-size="15.78" text-anchor="start" fill="#000" textLength="6.05" lengthAdjust="spacingAndGlyphs" id="tb1b" >[</text></g>
<g transform="matrix(0.9554 0 0 1 16.070 0)"><text x="366.4" y="16.8" font-size="15.78" text-anchor="start" fill="#000" textLength="10.77" lengthAdjust="spacingAndGlyphs" id="tRb" font-style="italic">R</text></g>
<g transform="matrix(0.9260 0 0 1 27.729 0)"><text x="378.9" y="11.9" font-size="11.36" text-anchor="start" fill="#000" textLength="7.1" lengthAdjust="spacingAndGlyphs" id="t2b" >2</text></g>
<g transform="matrix(0.9743 0 0 1 9.210 0)"><text x="386.4" y="17.5" font-size="15.78" text-anchor="start" fill="#000" textLength="12.99" lengthAdjust="spacingAndGlyphs" id="teqb" >=</text></g>
<g transform="matrix(1.0075 0 0 1 -3.390 0)"><text x="399" y="16.8" font-size="15.78" text-anchor="start" fill="#000" textLength="44.37" lengthAdjust="spacingAndGlyphs" id="tvb" >0.994</text></g>
<g transform="matrix(0.9561 0 0 1 20.829 0)"><text x="449.1" y="16.8" font-size="15.78" text-anchor="end" fill="#000" textLength="6.05" lengthAdjust="spacingAndGlyphs" id="tb2b" >]</text></g>
<g transform="matrix(1.0104 0 0 1 -4.764 0)"><text x="560.8" y="16.8" font-size="15.78" text-anchor="end" fill="#000" textLength="42.95" lengthAdjust="spacingAndGlyphs" id="tnc" >Asym</text></g>
<g transform="matrix(0.7982 0 0 1 114.101 0)"><text x="567.4" y="16.8" font-size="15.78" text-anchor="start" fill="#000" textLength="6.05" lengthAdjust="spacingAndGlyphs" id="tb1c" >[</text></g>
<g transform="matrix(0.9287 0 0 1 40.966 0)"><text x="573.2" y="16.8" font-size="15.78" text-anchor="start" fill="#000" textLength="10.77" lengthAdjust="spacingAndGlyphs" id="tRc" font-style="italic">R</text></g>
<g transform="matrix(0.9414 0 0 1 33.930 0)"><text x="585.7" y="11.9" font-size="11.36" text-anchor="start" fill="#000" textLength="7.1" lengthAdjust="spacingAndGlyphs" id="t2c" >2</text></g>
<g transform="matrix(0.9795 0 0 1 11.412 0)"><text x="593.2" y="17.5" font-size="15.78" text-anchor="start" fill="#000" textLength="12.99" lengthAdjust="spacingAndGlyphs" id="teqc" >=</text></g>
<g transform="matrix(1.0124 0 0 1 -7.890 0)"><text x="605.8" y="16.8" font-size="15.78" text-anchor="start" fill="#000" textLength="44.37" lengthAdjust="spacingAndGlyphs" id="tvc" >0.997</text></g>
<g transform="matrix(0.9340 0 0 1 44.390 0)"><text x="655.9" y="16.8" font-size="15.78" text-anchor="end" fill="#000" textLength="6.05" lengthAdjust="spacingAndGlyphs" id="tb2c" >]</text></g>
<g transform="matrix(1.0103 0 0 1 -1.227 0)"><text x="137.2" y="261.9" font-size="15.78" text-anchor="middle" fill="#000" textLength="77.39" lengthAdjust="spacingAndGlyphs" id="t2dx" >Extinction</text></g>
<g transform="matrix(1.0095 0 0 1 -3.494 0)"><text x="362.2" y="261.9" font-size="15.78" text-anchor="middle" fill="#000" textLength="79.89" lengthAdjust="spacingAndGlyphs" id="t2ex" >Scattering</text></g>
<g transform="matrix(0.9994 0 0 1 0.328 0)"><text x="587" y="261.9" font-size="15.78" text-anchor="middle" fill="#000" textLength="42.95" lengthAdjust="spacingAndGlyphs" id="t2fx" >Asym</text></g>
<g transform="matrix(1.0338 0 0 1 -4.306 0)"><text x="137.2" y="225.8" font-size="15.78" text-anchor="middle" fill="#000" textLength="27.22" lengthAdjust="spacingAndGlyphs" id="xla" >Mie</text></g>
<g transform="matrix(1.0300 0 0 1 -10.533 0)"><text x="362.2" y="225.8" font-size="15.78" text-anchor="middle" fill="#000" textLength="27.22" lengthAdjust="spacingAndGlyphs" id="xlb" >Mie</text></g>
<g transform="matrix(1.0280 0 0 1 -16.231 0)"><text x="587" y="225.8" font-size="15.78" text-anchor="middle" fill="#000" textLength="27.22" lengthAdjust="spacingAndGlyphs" id="xlc" >Mie</text></g>
<g transform="matrix(1.0129 0 0 1 -4.639 0)"><text x="362.2" y="468" font-size="15.78" text-anchor="middle" fill="#000" textLength="69.53" lengthAdjust="spacingAndGlyphs" id="xle" >Error [%]</text></g>
<text x="35.7" y="109.45" font-size="15.78" text-anchor="middle" fill="#000" textLength="43.15" lengthAdjust="spacingAndGlyphs" transform="rotate(-90 35.7 109.45)" id="ylA" >MieAI</text>
<text x="15.1" y="353.55" font-size="15.78" text-anchor="middle" fill="#000" textLength="57.16" lengthAdjust="spacingAndGlyphs" transform="rotate(-90 15.1 353.55)" id="ylD" >Density</text>
<g transform="matrix(1.0969 0 0 1 -6.118 0)"><text x="59.9" y="34.4" font-size="11.91" text-anchor="start" fill="#008000" textLength="11.73" lengthAdjust="spacingAndGlyphs" id="pla" >a)</text></g>
<g transform="matrix(1.1028 0 0 1 -30.460 0)"><text x="284.9" y="34.4" font-size="11.91" text-anchor="start" fill="#008000" textLength="11.99" lengthAdjust="spacingAndGlyphs" id="plb" >b)</text></g>
<g transform="matrix(1.1295 0 0 1 -66.813 0)"><text x="509.8" y="34.4" font-size="11.91" text-anchor="start" fill="#008000" textLength="11" lengthAdjust="spacingAndGlyphs" id="plc" >c)</text></g>
<g transform="matrix(1.1647 0 0 1 -10.490 0)"><text x="59.9" y="278" font-size="11.91" text-anchor="start" fill="#008000" textLength="11.99" lengthAdjust="spacingAndGlyphs" id="pld" >d)</text></g>
<g transform="matrix(1.0720 0 0 1 -21.511 0)"><text x="284.9" y="278" font-size="11.91" text-anchor="start" fill="#008000" textLength="11.76" lengthAdjust="spacingAndGlyphs" id="ple" >e)</text></g>
<g transform="matrix(1.1825 0 0 1 -94.491 0)"><text x="509.8" y="278" font-size="11.91" text-anchor="start" fill="#008000" textLength="8.68" lengthAdjust="spacingAndGlyphs" id="plf" >f)</text></g>
</g>
</svg>
</body></html>
